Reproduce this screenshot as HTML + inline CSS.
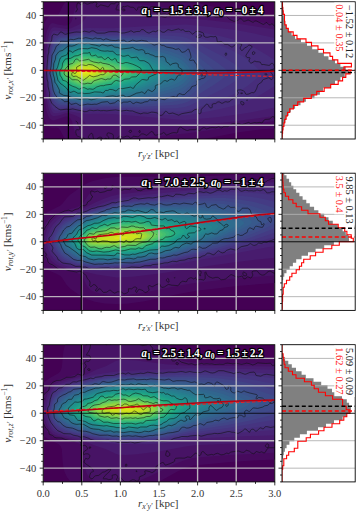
<!DOCTYPE html>
<html><head><meta charset="utf-8"><style>html,body{margin:0;padding:0;background:#fff;overflow:hidden}svg{display:block}</style></head><body>
<svg width="357" height="513" viewBox="0 0 357 513">
<rect width="357" height="513" fill="#fff"/>
<clipPath id="c0"><rect x="43.2" y="1.8" width="231.6" height="137.2"/></clipPath>
<g clip-path="url(#c0)">
<rect x="43.2" y="1.8" width="231.6" height="137.2" fill="#440154"/>
<path fill-rule="evenodd" fill="#460a5d" d="M191.7 141.3 67.0 141.2 63.9 137.2 60.1 130.2 58.6 128.2 56.7 127.4 51.7 127.8 49.7 127.1 47.7 125.8 45.2 122.2 42.7 114.4 41.7 114.4 41.7 29.0 42.7 29.0 44.8 22.2 46.7 18.7 48.7 16.8 50.7 15.8 52.7 15.5 55.7 15.9 57.7 15.2 59.2 13.2 63.1 5.2 66.7 0.2 181.2 0.2 200.7 3.8 229.2 10.2 244.6 13.2 264.2 16.2 276.7 17.4 276.7 128.4 262.4 129.2 239.1 132.2 191.7 141.3Z"/>
<path fill-rule="evenodd" fill="#471365" d="M104.7 141.3 85.1 141.2 81.7 139.8 77.7 136.9 75.7 134.2 74.1 130.2 72.0 121.2 71.0 119.2 69.7 117.8 67.7 116.6 65.7 116.6 53.7 120.4 51.7 120.1 49.7 118.4 48.4 116.2 46.9 112.2 46.0 108.2 44.6 97.2 42.7 73.9 41.7 73.9 41.7 69.5 42.7 69.5 45.1 41.2 46.0 35.2 47.2 30.2 49.7 25.0 51.7 23.3 52.7 23.0 57.7 24.6 64.7 25.6 67.7 25.3 69.5 24.2 71.1 22.2 72.0 20.2 74.1 11.2 75.6 7.2 77.7 4.4 79.7 2.8 84.9 0.2 101.5 0.2 121.7 2.1 189.7 10.5 233.7 17.8 274.7 24.2 276.7 24.2 276.7 121.1 274.7 121.1 187.7 133.2 127.7 139.4 104.7 141.3Z"/>
<path fill-rule="evenodd" fill="#481c6e" d="M102.7 126.3 88.7 126.5 86.7 125.2 83.1 120.2 81.0 118.2 75.0 115.2 69.1 113.2 65.7 113.3 59.7 115.2 53.7 116.3 51.7 115.2 50.3 113.2 48.2 107.2 46.4 97.2 45.1 83.2 44.6 70.2 45.6 54.2 47.4 40.2 49.7 31.5 50.9 29.2 52.7 27.4 54.7 27.2 66.7 29.1 71.0 28.2 79.9 24.2 82.4 22.2 86.7 16.3 88.1 15.2 89.7 14.9 140.7 17.5 183.7 18.3 193.7 18.8 211.7 20.4 234.6 23.2 274.7 29.4 276.7 29.5 276.7 115.8 227.8 122.2 193.7 125.3 181.7 125.7 134.7 125.2 102.7 126.3Z"/>
<path fill-rule="evenodd" fill="#482475" d="M194.7 119.3 185.7 119.9 177.7 119.6 111.7 113.9 102.7 113.7 86.7 114.0 77.7 112.8 67.7 111.0 59.7 112.8 55.7 113.2 53.7 112.9 52.7 112.2 50.9 109.2 48.9 102.2 46.9 89.2 45.7 73.2 46.3 61.2 48.0 46.2 49.5 38.2 51.7 32.6 52.7 31.3 54.7 30.4 67.7 31.2 77.7 29.2 87.7 27.9 112.3 28.2 141.7 26.5 185.7 24.5 210.7 26.9 235.7 30.1 253.1 33.2 274.7 38.1 276.7 38.1 276.7 107.5 274.7 107.5 252.0 112.2 237.7 114.6 216.8 117.2 194.7 119.3Z"/>
<path fill-rule="evenodd" fill="#472d7b" d="M185.7 115.3 176.7 115.4 145.7 113.7 113.7 111.2 103.7 111.0 85.7 111.4 77.7 110.8 67.7 109.3 58.7 110.8 55.7 110.4 53.7 109.6 52.7 108.5 51.6 106.2 49.4 98.2 47.9 87.2 46.7 72.2 47.3 61.2 49.1 47.2 50.6 40.2 52.7 35.0 54.7 33.4 58.7 32.7 67.7 32.9 76.7 31.4 85.7 30.6 109.7 31.2 142.7 29.7 177.7 29.0 186.7 29.3 219.7 36.0 230.7 38.7 239.1 41.2 246.7 44.1 253.4 47.2 262.3 52.2 274.7 60.1 276.7 60.2 276.7 86.0 274.7 86.1 261.4 94.2 253.7 98.4 246.7 101.5 239.0 104.2 230.7 106.6 219.0 109.2 191.7 114.5 185.7 115.3Z"/>
<path fill-rule="evenodd" fill="#463480" d="M183.7 111.4 174.7 111.7 143.7 111.1 109.7 109.1 84.7 109.7 76.7 109.2 67.7 107.8 59.7 108.8 54.7 107.3 53.7 106.4 52.4 104.2 50.2 96.2 48.5 84.2 47.5 72.2 48.2 62.2 49.5 51.2 51.1 43.2 52.7 38.6 54.7 36.2 59.7 34.5 67.7 34.5 76.7 33.0 83.7 32.5 109.7 33.1 143.7 32.2 176.7 32.7 184.7 33.3 191.7 35.1 214.5 43.2 224.8 47.2 233.7 51.3 241.7 55.8 248.7 60.6 255.4 66.2 259.8 71.2 260.3 73.2 260.0 74.2 258.7 76.2 255.7 79.2 246.7 86.5 236.7 92.7 227.7 96.8 215.7 101.4 191.7 109.6 183.7 111.4Z"/>
<path fill-rule="evenodd" fill="#443b84" d="M175.7 108.3 141.7 108.9 107.7 107.6 84.7 108.3 77.7 107.9 67.7 106.4 59.7 107.0 56.7 105.8 54.7 104.4 53.7 103.2 51.7 98.0 49.7 87.2 48.3 73.2 48.6 66.2 50.1 53.2 51.8 45.2 53.7 40.3 55.7 38.3 59.7 36.4 67.7 35.9 76.7 34.4 83.7 33.9 109.7 34.7 141.7 34.4 174.7 36.1 181.7 36.8 186.7 38.1 190.7 39.7 222.4 56.2 234.9 64.2 239.6 68.2 242.2 71.2 242.6 73.2 242.2 74.2 238.6 78.2 231.7 83.4 222.0 89.2 189.7 105.5 183.7 107.3 175.7 108.3Z"/>
<path fill-rule="evenodd" fill="#414487" d="M151.7 106.3 138.7 106.9 107.7 106.2 82.7 107.0 76.7 106.6 67.7 105.1 60.7 105.3 57.7 104.1 54.7 101.6 52.6 97.2 50.4 86.2 49.1 74.2 49.1 68.2 50.4 57.2 52.1 48.2 53.8 43.2 56.5 40.2 58.7 38.7 60.7 37.9 67.7 37.2 76.7 35.7 82.7 35.2 109.7 36.2 139.7 36.3 177.7 39.9 184.7 41.6 190.7 44.6 199.7 51.1 218.1 63.2 224.5 68.2 227.3 71.2 227.7 72.2 227.2 74.2 225.4 76.2 221.8 79.2 213.3 85.2 200.7 93.1 191.7 99.5 187.7 101.7 182.7 103.6 176.7 104.7 151.7 106.3Z"/>
<path fill-rule="evenodd" fill="#3e4a89" d="M97.7 105.3 88.7 105.8 80.7 105.8 67.7 103.8 61.7 103.8 58.7 102.7 54.7 98.7 52.7 93.9 51.2 86.2 49.7 74.2 49.8 68.2 51.3 56.2 53.1 48.2 54.4 45.2 55.7 43.5 59.7 40.1 62.7 39.1 77.7 36.8 88.7 36.4 106.7 37.5 139.7 38.2 176.7 43.2 183.7 45.3 190.4 49.2 199.7 57.7 211.6 67.2 214.5 70.2 215.5 72.2 214.9 74.2 212.2 77.2 199.7 87.2 191.7 94.4 185.9 98.2 180.7 100.3 171.7 101.9 141.7 104.9 110.7 104.8 97.7 105.3Z"/>
<path fill-rule="evenodd" fill="#3b528b" d="M95.7 104.3 80.7 104.7 67.7 102.6 61.7 102.2 58.7 100.8 56.3 98.2 54.7 95.9 52.7 90.3 51.4 83.2 50.3 73.2 50.4 68.2 51.9 57.2 53.7 49.8 55.7 46.0 59.7 41.9 62.7 40.7 76.7 38.1 81.7 37.6 88.7 37.6 105.7 38.7 138.7 40.0 172.7 45.8 181.7 48.4 187.7 51.9 193.5 57.2 204.5 69.2 205.9 71.2 206.1 73.2 204.9 75.2 191.7 89.3 185.5 94.2 182.7 95.7 178.7 97.1 170.7 98.8 140.7 103.1 108.7 103.6 95.7 104.3Z"/>
<path fill-rule="evenodd" fill="#38598c" d="M93.7 103.3 79.7 103.5 67.7 101.3 62.7 100.8 60.7 100.2 58.7 98.8 55.3 94.2 53.6 90.2 51.9 82.2 50.9 73.2 51.1 67.2 52.7 56.8 54.4 51.2 57.3 46.2 60.7 43.1 63.7 41.9 75.7 39.4 84.7 38.7 132.7 41.3 144.7 42.8 172.7 49.1 181.7 52.2 186.3 55.2 190.5 59.2 196.1 66.2 199.0 71.2 199.1 73.2 197.6 76.2 194.1 81.2 189.8 86.2 183.7 91.2 176.7 94.2 168.7 96.1 139.7 101.3 107.7 102.3 93.7 103.3Z"/>
<path fill-rule="evenodd" fill="#355f8d" d="M92.7 102.3 79.7 102.4 62.7 99.3 60.7 98.5 59.1 97.2 55.7 92.3 53.7 87.3 52.3 80.2 51.4 72.2 51.8 66.2 53.2 58.2 55.2 52.2 58.7 46.6 61.7 44.2 64.1 43.2 75.7 40.6 79.7 40.0 84.7 39.8 130.7 42.8 141.7 44.2 171.7 52.1 180.7 55.6 184.7 58.2 188.7 62.1 192.6 67.2 194.7 71.2 194.7 73.2 193.4 76.2 190.6 80.2 187.1 84.2 181.7 88.4 173.7 91.6 145.7 98.4 138.7 99.6 105.7 101.2 92.7 102.3Z"/>
<path fill-rule="evenodd" fill="#31668e" d="M91.7 101.3 79.7 101.4 63.7 98.1 61.7 97.4 59.7 96.0 56.5 91.2 54.4 86.2 52.7 79.1 51.9 72.2 52.4 66.2 53.7 59.4 55.9 53.2 58.9 48.2 60.7 46.5 62.7 45.2 76.7 41.5 80.7 41.0 85.7 40.9 128.7 44.2 139.7 45.7 169.7 54.7 177.7 57.8 182.0 60.2 185.7 63.4 188.9 67.2 191.0 71.2 191.1 73.2 190.3 75.2 187.7 79.0 184.6 82.2 181.7 84.5 178.7 86.2 170.7 89.3 145.7 96.3 138.7 97.8 91.7 101.3Z"/>
<path fill-rule="evenodd" fill="#2f6c8e" d="M90.7 100.3 78.7 100.2 63.7 96.7 61.7 95.8 59.7 94.2 57.1 90.2 55.0 85.2 53.6 80.2 52.5 73.2 52.7 68.2 54.1 61.2 56.2 55.2 59.6 49.2 62.7 46.8 70.1 44.2 75.7 42.8 79.7 42.2 84.7 42.0 91.7 42.3 125.7 45.5 137.7 47.1 145.7 49.3 169.7 57.8 175.7 60.3 179.7 62.6 183.2 65.2 185.9 68.2 187.5 71.2 187.7 72.2 187.2 74.2 185.1 77.2 181.7 80.5 177.7 83.0 170.1 86.2 144.7 94.5 138.7 96.0 132.7 96.9 90.7 100.3Z"/>
<path fill-rule="evenodd" fill="#2c728e" d="M89.7 99.3 78.7 99.1 64.7 95.6 62.7 94.8 60.7 93.4 57.8 89.2 55.3 83.2 53.7 77.4 53.0 72.2 53.3 68.2 54.9 61.2 57.7 54.2 60.4 50.2 63.7 47.7 70.7 45.3 76.7 43.8 80.7 43.2 85.7 43.1 92.7 43.5 126.7 47.1 135.7 48.4 144.7 51.0 172.7 62.4 179.7 66.5 182.6 69.2 183.8 71.2 183.8 73.2 182.6 75.2 179.7 77.9 175.7 80.5 168.7 83.6 142.4 93.2 137.7 94.4 131.7 95.4 89.7 99.3Z"/>
<path fill-rule="evenodd" fill="#2a788e" d="M88.7 98.3 78.7 98.1 72.7 96.7 64.7 94.2 62.7 93.3 60.7 91.7 58.3 88.2 56.2 83.2 54.6 78.2 53.7 73.2 53.8 69.2 55.5 62.2 58.3 55.2 60.7 51.6 63.7 49.2 70.7 46.5 76.7 44.9 80.7 44.2 84.7 44.2 92.7 44.6 133.7 49.8 138.7 50.9 143.7 52.7 168.7 63.8 175.7 67.7 177.7 69.2 179.4 71.2 179.6 72.2 178.6 74.2 176.4 76.2 172.7 78.5 146.7 89.7 140.7 91.9 129.7 94.0 88.7 98.3Z"/>
<path fill-rule="evenodd" fill="#277e8e" d="M87.7 97.3 79.7 97.2 69.7 94.6 62.7 91.8 60.7 90.0 58.7 87.0 56.3 81.2 54.9 76.2 54.3 72.2 54.5 69.2 56.0 63.2 58.8 56.2 61.7 52.2 64.7 50.1 70.7 47.7 76.7 46.0 80.7 45.3 85.7 45.3 93.7 45.8 131.7 51.0 138.7 52.7 145.7 55.6 168.9 67.2 172.1 69.2 174.0 71.2 174.3 72.2 173.0 74.2 168.7 77.1 145.7 88.0 138.7 90.6 126.7 92.9 87.7 97.3Z"/>
<path fill-rule="evenodd" fill="#25848e" d="M86.7 96.3 80.7 96.2 77.7 95.8 70.7 93.8 63.7 91.0 61.7 89.4 59.7 86.9 57.9 83.2 56.2 78.2 55.1 73.2 55.2 69.2 57.2 62.2 59.7 56.5 61.7 53.8 63.7 52.1 72.7 48.2 80.7 46.4 90.7 46.6 119.7 50.6 133.7 53.1 139.7 54.9 145.7 57.7 164.6 68.2 168.2 71.2 168.4 72.2 168.0 73.2 163.9 76.2 145.7 85.9 137.7 89.1 123.7 91.8 92.7 95.9 86.7 96.3Z"/>
<path fill-rule="evenodd" fill="#238a8d" d="M84.7 95.3 80.7 95.2 75.9 94.2 70.7 92.7 63.7 89.6 61.7 87.8 59.7 85.1 58.0 81.2 56.2 75.2 55.7 71.2 56.1 68.2 58.3 61.2 60.7 56.7 62.7 54.4 64.7 52.9 73.7 49.1 80.7 47.5 90.7 47.6 118.7 51.9 132.7 54.6 138.7 56.4 144.7 59.2 159.2 68.2 162.6 71.2 162.7 72.2 162.3 73.2 158.3 76.2 144.9 84.2 136.7 87.7 129.7 89.3 117.7 91.2 92.7 94.8 84.7 95.3Z"/>
<path fill-rule="evenodd" fill="#21918c" d="M95.7 93.3 86.7 94.2 78.7 93.9 72.7 92.2 68.7 90.6 63.9 88.2 61.7 86.2 59.7 83.3 58.4 80.2 56.9 75.2 56.4 71.2 57.4 66.2 59.2 61.2 61.6 57.2 63.7 55.0 66.7 53.2 71.7 50.9 77.7 49.1 81.7 48.5 91.7 48.8 115.7 52.7 130.7 55.7 139.7 58.7 144.6 61.2 149.2 64.2 155.9 69.2 157.7 71.2 157.8 72.2 157.3 73.2 152.4 77.2 144.7 82.3 137.7 85.6 125.7 88.5 95.7 93.3Z"/>
<path fill-rule="evenodd" fill="#1f968b" d="M94.7 92.4 85.7 93.2 78.7 92.8 69.7 89.9 64.7 87.4 62.2 85.2 60.2 82.2 58.7 79.0 57.3 74.2 57.0 71.2 57.8 67.2 59.7 62.0 61.7 58.7 63.7 56.5 70.7 52.5 78.7 49.9 84.7 49.6 93.7 50.2 120.7 55.1 129.7 57.1 135.7 58.9 140.7 61.1 145.9 64.2 151.1 68.2 153.6 71.2 153.7 72.2 153.2 73.2 148.9 77.2 142.7 81.4 136.7 84.2 123.7 87.4 94.7 92.4Z"/>
<path fill-rule="evenodd" fill="#1e9c89" d="M94.7 91.3 85.7 92.1 78.7 91.8 69.7 88.7 64.7 86.0 62.7 84.3 60.7 81.4 59.2 78.2 58.0 74.2 57.7 71.2 58.2 68.2 59.7 63.9 61.7 60.3 63.7 58.0 66.7 55.8 70.7 53.7 78.7 51.0 83.7 50.6 92.7 51.2 118.7 56.1 128.0 58.2 134.6 60.2 139.7 62.5 144.2 65.2 148.0 68.2 150.3 71.2 150.0 73.2 146.7 76.5 141.2 80.2 135.7 82.8 121.7 86.4 94.7 91.3Z"/>
<path fill-rule="evenodd" fill="#1fa287" d="M93.7 90.4 84.7 91.1 78.7 90.7 70.7 88.0 66.7 85.9 63.7 83.8 61.7 81.4 59.7 77.6 58.6 74.2 58.3 71.2 60.0 65.2 61.7 62.0 63.7 59.4 66.6 57.2 70.1 55.2 78.7 52.1 82.7 51.7 91.7 52.1 116.7 57.0 132.6 61.2 137.5 63.2 141.7 65.7 145.7 68.9 147.4 71.2 147.0 73.2 144.1 76.2 139.7 79.1 134.7 81.4 128.7 83.2 119.7 85.4 93.7 90.4Z"/>
<path fill-rule="evenodd" fill="#22a884" d="M93.7 89.3 84.7 90.1 78.7 89.7 70.7 86.8 66.1 84.2 63.7 82.4 61.7 79.7 60.4 77.2 59.3 74.2 59.0 71.2 59.6 68.2 60.7 65.5 63.7 60.9 65.7 59.2 69.7 56.7 78.5 53.2 82.7 52.8 91.7 53.2 115.7 58.2 130.7 62.3 135.7 64.2 139.4 66.2 143.3 69.2 144.6 71.2 144.2 73.2 141.7 75.7 137.7 78.3 132.7 80.4 117.7 84.5 93.7 89.3Z"/>
<path fill-rule="evenodd" fill="#28ae80" d="M92.7 88.4 83.7 89.0 78.7 88.6 70.7 85.6 64.7 81.8 61.7 78.0 60.4 75.2 59.7 72.2 59.8 70.2 60.7 67.5 63.7 62.4 66.1 60.2 69.7 57.9 77.7 54.6 81.7 53.8 90.7 54.2 113.7 59.1 128.6 63.2 133.7 65.2 137.7 67.2 140.4 69.2 141.9 71.2 141.4 73.2 139.3 75.2 135.7 77.4 130.7 79.4 115.7 83.6 92.7 88.4Z"/>
<path fill-rule="evenodd" fill="#2fb47c" d="M92.7 87.4 85.7 88.0 79.7 87.8 71.7 84.9 65.7 81.3 63.7 79.4 62.2 77.2 60.9 74.2 60.4 72.2 61.2 68.2 63.7 63.9 66.6 61.2 69.7 59.2 77.7 55.7 81.7 54.9 90.7 55.3 111.7 59.9 125.7 63.9 134.7 67.6 137.4 69.2 139.0 71.2 139.0 72.2 138.5 73.2 136.7 74.8 133.7 76.4 128.7 78.4 114.7 82.5 92.7 87.4Z"/>
<path fill-rule="evenodd" fill="#38b977" d="M92.7 86.3 85.7 86.9 79.7 86.7 72.7 84.2 67.4 81.2 63.7 77.9 61.4 73.2 61.2 71.2 61.7 69.2 63.7 65.5 65.8 63.2 69.7 60.4 77.7 56.8 81.7 56.0 89.7 56.3 93.7 56.9 108.7 60.5 122.0 64.2 132.1 68.2 135.1 70.2 135.8 71.2 135.8 72.2 133.8 74.2 125.7 77.8 113.7 81.4 92.7 86.3Z"/>
<path fill-rule="evenodd" fill="#44bf70" d="M91.7 85.4 84.7 85.9 79.7 85.7 73.1 83.2 68.7 80.8 64.7 77.5 62.6 74.2 62.1 71.2 62.6 69.2 63.7 67.1 65.7 64.8 68.8 62.2 72.3 60.2 76.7 58.3 80.7 57.2 87.7 57.2 94.7 58.2 117.3 64.2 128.1 68.2 131.4 70.2 132.2 71.2 132.2 72.2 129.9 74.2 122.8 77.2 110.7 80.9 91.7 85.4Z"/>
<path fill-rule="evenodd" fill="#50c46a" d="M91.7 84.3 80.7 84.8 77.7 84.0 71.4 81.2 67.0 78.2 64.2 75.2 62.9 72.2 63.7 68.9 66.7 65.2 72.7 61.2 79.7 58.4 84.7 58.2 92.7 58.9 112.7 64.2 123.9 68.2 127.5 70.2 128.3 71.2 128.3 72.2 126.7 73.7 118.7 77.1 108.3 80.2 91.7 84.3Z"/>
<path fill-rule="evenodd" fill="#5ec962" d="M90.7 83.4 80.7 83.7 77.7 82.9 71.7 80.2 67.7 77.5 64.7 74.2 63.9 72.2 64.7 69.2 67.7 65.8 72.7 62.4 79.7 59.5 84.7 59.3 92.7 60.0 109.7 64.7 119.7 68.2 123.4 70.2 124.3 71.2 124.3 72.2 123.3 73.2 116.9 76.2 107.3 79.2 90.7 83.4Z"/>
<path fill-rule="evenodd" fill="#6ccd5a" d="M90.7 82.3 80.7 82.7 77.7 81.9 73.7 80.1 69.7 77.7 66.7 75.1 65.1 72.2 65.4 70.2 67.7 67.2 72.7 63.7 78.7 60.9 80.7 60.4 83.7 60.4 92.7 61.2 106.7 65.1 115.6 68.2 119.5 70.2 120.4 71.2 120.3 72.2 119.4 73.2 113.7 75.9 105.7 78.4 90.7 82.3Z"/>
<path fill-rule="evenodd" fill="#7ad151" d="M89.7 81.4 80.7 81.6 75.7 79.9 70.9 77.2 67.7 74.6 66.4 72.2 66.7 70.2 69.3 67.2 73.7 64.4 79.7 61.7 83.7 61.5 90.7 61.9 94.7 62.8 111.6 68.2 115.6 70.2 116.5 71.2 116.5 72.2 115.4 73.2 111.3 75.2 94.7 80.4 89.7 81.4Z"/>
<path fill-rule="evenodd" fill="#8bd646" d="M89.7 80.3 81.7 80.6 79.7 80.3 76.7 79.2 71.7 76.5 69.0 74.2 67.8 72.2 68.1 70.2 71.1 67.2 76.7 64.0 80.7 62.6 83.7 62.6 90.7 63.0 94.7 64.0 107.5 68.2 111.6 70.2 112.6 71.2 112.6 72.2 111.5 73.2 107.2 75.2 94.7 79.2 89.7 80.3Z"/>
<path fill-rule="evenodd" fill="#9bd93c" d="M88.7 79.3 81.7 79.6 79.7 79.3 77.1 78.2 73.4 76.2 70.6 74.2 69.3 72.2 69.7 70.2 72.7 67.5 77.7 64.7 80.7 63.8 83.7 63.7 89.7 64.1 93.7 64.9 105.9 69.2 108.8 71.2 108.7 72.2 105.7 74.2 94.2 78.2 88.7 79.3Z"/>
<path fill-rule="evenodd" fill="#addc30" d="M86.7 78.3 80.7 78.4 77.7 77.4 72.5 74.2 71.0 72.2 71.0 71.2 72.4 69.2 75.3 67.2 78.7 65.5 81.7 64.8 89.7 65.2 92.7 65.8 101.9 69.2 104.9 71.2 104.9 72.2 103.7 73.2 96.6 76.2 91.7 77.7 86.7 78.3Z"/>
<path fill-rule="evenodd" fill="#bddf26" d="M84.7 77.3 80.7 77.2 77.7 76.2 73.5 73.2 72.9 72.2 72.9 71.2 73.7 70.0 76.7 67.7 79.7 66.3 81.7 66.0 89.7 66.4 92.7 67.0 98.2 69.2 101.0 71.2 101.0 72.2 99.8 73.2 94.7 75.7 90.7 76.8 84.7 77.3Z"/>
<path fill-rule="evenodd" fill="#cde11d" d="M91.7 75.3 85.7 76.0 80.7 76.1 76.7 74.2 75.0 72.2 75.0 71.2 75.6 70.2 77.7 68.5 79.7 67.6 81.7 67.2 91.7 68.1 94.9 69.2 97.5 71.2 97.5 72.2 96.5 73.2 91.7 75.3Z"/>
<path fill-rule="evenodd" fill="#dfe318" d="M89.7 74.3 80.7 74.8 77.7 73.2 77.0 72.2 77.0 71.2 77.7 70.2 79.0 69.2 81.7 68.5 90.7 69.2 93.2 70.2 94.3 71.2 94.3 72.2 93.1 73.2 89.7 74.3Z"/>
<path fill-rule="evenodd" fill="#efe51c" d="M83.7 73.3 80.7 73.1 79.5 72.2 79.5 71.2 80.7 70.3 81.7 70.1 84.8 70.2 89.3 71.2 89.2 72.2 83.7 73.3Z"/>
<path fill="none" stroke="#111" stroke-opacity="0.8" stroke-width="0.7" d="M84.7 141.2 84.6 139.2 84.2 138.2 80.7 137.4 77.7 136.3 76.5 135.2 75.7 132.2 76.1 130.2 76.7 129.5 78.7 130.0 79.5 129.2 79.9 128.2 79.6 127.2 78.1 125.2 77.7 122.7 76.7 121.7 75.7 121.1M75.7 19.3 76.0 18.2 75.7 18.1M75.7 12.2 77.5 9.2 76.6 7.2 77.0 4.2 77.7 2.9 78.7 3.0 80.7 4.7 81.7 4.9 82.0 4.2 83.7 3.0 84.7 2.9 86.7 4.0 87.7 4.2 90.7 3.0 92.7 2.9 94.7 1.9 96.1 2.2 97.0 3.2 96.2 5.2 96.2 6.2 96.7 6.9 97.7 7.0 100.7 4.9 105.7 6.0 107.7 6.8 108.7 6.6 110.1 4.2 110.7 3.9 111.7 3.7 114.7 3.9 116.0 2.2 116.7 1.8 117.7 1.8 118.6 2.2 119.3 3.2 118.8 4.2 117.3 5.2 116.5 8.2 115.7 9.2 116.7 9.9 117.7 9.8 119.7 10.3 120.7 10.1 121.7 9.2 122.2 7.2 122.7 6.6 124.7 6.7 127.7 5.8 130.7 7.3 132.7 7.3 133.7 7.6 134.6 8.2 135.7 9.8 136.7 10.3 137.7 9.2 137.7 7.7 138.3 7.2 140.7 7.1 142.7 6.2 143.7 6.5 144.8 7.2 144.9 8.2 143.9 10.2 144.2 11.2 144.7 11.4 147.7 11.1 148.8 10.2 150.0 7.2 150.7 6.8 152.7 6.5 154.7 6.5 155.7 6.9 159.7 9.5 161.7 8.8 162.7 8.8 164.7 11.2 165.7 11.9 167.7 9.3 168.7 9.5 169.7 11.2 169.6 12.2 167.7 14.4 166.7 14.5 165.7 13.9 164.7 13.7 160.7 14.3 159.6 11.2 158.7 11.1 157.0 12.2 156.9 13.2 157.7 14.7 158.7 15.3 159.7 15.4 160.7 16.2 164.7 17.3 166.0 17.2 167.7 15.8 169.7 16.4 170.7 16.1 173.1 14.2 174.7 12.6 176.7 11.7 177.7 11.7 180.7 13.7 183.7 13.3 184.7 13.7 186.7 15.3 187.7 15.4 189.7 13.8 192.7 14.3 196.7 13.8 198.7 12.1 199.7 11.6 200.7 11.7 202.7 12.5 203.5 13.2 204.1 15.2 204.7 16.0 207.7 17.2 209.7 15.3 210.7 15.1 211.7 15.3 215.7 17.3 218.7 17.0 221.7 17.4 223.7 16.2 224.7 15.9 225.7 16.0 226.7 16.5 229.7 19.5 233.7 21.3 234.7 21.3 237.7 20.4 239.7 18.9 240.7 18.8 241.7 19.3 243.7 21.2 244.7 21.2 247.7 20.2 248.7 20.2 252.7 22.2 253.7 22.0 254.7 21.2 255.7 20.9 256.7 21.1 262.7 24.2 263.7 24.4 264.7 23.9 265.7 22.8 266.7 22.5 268.7 24.5 269.7 24.8 270.7 24.6 271.7 23.9 272.7 24.0 273.7 25.6 274.6 26.2 276.7 26.1M125.1 10.2 124.7 9.2 123.7 9.0 123.2 9.2 122.6 10.2 123.7 11.0 124.7 10.7 125.1 10.2M276.7 119.7 275.4 119.2 273.7 116.7 272.7 116.5 271.5 117.2 269.7 119.1 265.7 119.4 264.7 119.8 263.0 121.2 262.7 122.4 261.7 122.7 259.7 122.4 256.7 122.9 254.7 122.6 250.7 123.5 248.7 122.4 241.7 124.8 238.7 123.4 237.7 123.4 235.7 124.0 233.7 123.6 231.7 124.2 227.7 126.7 223.7 126.8 221.7 127.9 220.7 127.8 218.7 126.7 215.7 127.9 212.7 127.5 209.7 127.8 206.7 129.0 204.7 127.8 203.7 127.6 202.2 128.2 199.7 130.9 198.7 131.0 197.7 129.2 196.7 129.0 194.7 129.7 189.7 129.8 187.7 130.5 186.7 130.4 182.7 128.6 181.7 127.3 180.7 127.0 179.7 127.4 178.7 128.6 178.0 130.2 177.7 132.3 176.7 132.9 173.7 132.6 171.7 133.0 166.7 135.1 165.7 134.6 164.7 133.0 163.7 132.4 161.7 133.8 160.7 134.1 158.7 134.4 156.7 135.1 154.7 135.1 153.1 132.2 151.7 131.5 150.7 131.8 149.5 133.2 146.7 135.4 143.7 134.0 141.7 133.8 138.7 136.5 137.7 136.8 133.7 136.2 132.7 136.7 130.7 138.8 129.7 137.2 128.1 136.2 126.7 136.1 123.7 137.2 122.7 137.3 120.7 136.3 119.7 136.1 117.7 137.6 114.7 140.9 113.7 141.1 113.4 140.2 113.3 135.2 112.7 134.2 111.7 133.7 108.7 132.8 107.4 133.2 106.8 135.2 108.7 137.2 108.7 138.3 108.0 139.2 107.7 139.4 105.7 138.3 104.7 138.6 103.7 139.6 102.7 139.5 101.7 137.6 101.1 137.2 99.7 137.2 97.5 138.2 97.4 141.2M131.1 132.2 131.7 131.2 131.1 130.2 129.7 130.5 128.9 131.2 129.7 132.4 130.7 132.5 131.1 132.2M140.1 132.2 140.1 131.2 139.7 130.3 138.8 131.2 139.1 132.2 139.7 132.7 140.1 132.2M94.8 141.2 93.6 139.2 92.7 134.6 91.7 133.2 90.7 133.6 88.6 136.2 88.2 137.2 90.1 139.2 87.1 141.2M161.7 115.3 160.7 115.5 159.7 115.1 157.7 113.3 156.7 112.8 153.7 112.3 151.7 112.1 147.7 113.3 143.7 112.9 140.7 113.8 135.7 112.3 132.7 111.0 129.7 110.9 126.7 110.3 121.7 111.0 115.7 109.9 106.7 110.8 103.7 110.5 100.7 110.7 97.7 110.2 93.7 110.7 89.7 110.2 86.7 111.5 84.7 111.7 81.7 110.7 79.7 110.5 72.7 108.9 69.7 109.5 66.7 109.2 60.7 109.8 58.7 109.1 54.7 106.2 51.7 103.1 49.7 98.2 49.4 96.2 49.6 93.2 48.0 86.2 47.9 82.2 47.1 79.2 46.6 73.2 47.9 55.2 48.8 52.2 48.9 48.2 50.6 42.2 51.7 40.1 52.1 36.2 52.7 35.1 53.7 34.3 54.7 34.3 56.7 34.9 57.7 34.9 58.7 34.2 59.7 32.6 60.7 32.0 61.7 32.1 64.7 34.1 65.7 34.3 68.7 33.3 74.7 32.2 76.7 32.0 80.7 32.2 84.7 31.2 88.7 32.1 89.7 32.1 91.7 31.0 92.7 30.9 93.7 31.1 96.7 32.9 97.7 33.2 104.7 33.1 108.7 31.8 110.7 31.6 116.7 31.7 118.7 32.1 120.7 33.0 121.7 33.1 124.7 32.9 128.7 31.8 130.7 30.9 131.7 31.0 133.7 32.3 136.7 31.5 139.7 31.4 141.7 29.6 142.7 29.6 143.7 29.9 146.7 32.3 148.7 33.0 149.7 32.9 152.7 31.3 153.7 31.2 155.7 31.7 158.7 30.0 159.9 30.2 161.7 32.0 163.7 32.3 164.7 32.0 167.7 29.8 168.7 29.7 171.7 30.6 178.7 28.9 179.6 29.2 180.7 30.3 182.7 29.7 183.7 30.1 184.9 31.2 185.7 31.5 188.7 31.3 189.7 31.6 192.7 34.2 195.7 31.7 197.7 31.2 199.7 31.6 202.7 32.7 203.4 33.2 203.7 34.0 203.9 36.2 205.7 37.2 207.7 37.3 210.7 36.5 213.7 36.8 215.7 36.4 216.7 37.9 217.2 41.2 217.7 42.0 220.7 41.5 221.7 41.7 224.7 44.2 227.7 44.4 230.2 46.2 231.7 47.0 232.7 46.8 236.7 43.5 237.7 43.1 241.7 44.2 241.6 45.2 240.4 47.2 240.2 48.2 240.7 49.6 241.7 50.5 242.7 50.2 244.7 47.8 246.7 47.1 248.6 45.2 249.9 45.2 251.8 46.2 252.1 47.2 249.7 49.6 246.0 55.2 246.0 56.2 246.7 57.2 247.7 57.6 249.7 57.6 250.0 58.2 249.1 60.2 249.1 61.2 249.7 62.2 250.7 63.0 251.7 63.0 254.7 61.1 256.7 61.7 258.7 61.8 260.3 62.2 261.7 64.6 263.7 64.5 268.7 65.4 269.7 65.3 270.7 63.9 271.7 63.4 272.7 63.5 273.7 64.4 274.5 67.2 274.3 68.2 273.8 69.2 270.7 69.8 270.2 70.2 270.2 71.2 270.7 72.2 272.3 74.2 272.8 75.2 273.1 77.2 272.7 78.6 271.7 79.7 270.7 79.4 270.0 78.2 268.7 77.7 263.7 79.4 262.6 80.2 261.6 82.2 258.7 84.0 257.7 85.2 256.8 88.2 255.3 91.2 254.7 92.1 253.7 92.7 251.7 92.6 248.7 94.0 246.7 94.4 245.7 94.0 244.7 91.9 243.7 90.9 240.7 89.8 237.7 90.1 237.4 90.2 237.3 91.2 238.6 93.2 236.7 95.0 234.7 98.0 231.7 99.5 229.7 101.6 227.7 102.1 225.7 101.7 224.7 102.0 222.7 103.2 221.7 103.3 219.7 102.1 218.7 101.9 217.7 102.0 215.7 103.5 213.7 103.7 212.4 104.2 212.1 105.2 212.3 107.2 211.7 107.8 210.7 107.9 209.7 107.4 208.8 106.2 208.5 105.2 207.7 104.3 206.3 104.2 205.7 104.6 204.7 106.2 202.2 108.2 201.5 109.2 201.2 110.2 201.1 112.2 200.7 113.2 199.7 113.7 198.2 113.2 198.0 112.2 198.4 110.2 198.1 109.2 197.7 109.0 194.7 109.7 191.7 111.9 181.7 113.7 178.7 115.2 172.7 113.0 169.7 113.6 168.7 113.5 166.7 111.6 165.7 111.3 164.7 111.9 163.4 114.2 161.7 115.3M200.2 37.2 201.7 36.2 201.6 35.2 199.7 34.7 196.4 36.2 196.2 37.2 197.7 37.8 200.2 37.2M253.7 54.4 252.7 54.4 252.4 53.2 252.7 52.0 253.7 51.6 254.7 52.2 255.1 53.2 253.7 54.4M226.3 55.2 226.7 54.3 226.6 53.2 225.7 52.9 225.0 54.2 225.7 55.6 226.3 55.2M265.8 75.2 266.7 74.9 267.0 74.2 266.7 73.8 265.7 73.8 264.7 74.2 265.8 75.2M276.7 85.5 275.3 84.2 275.0 83.2 276.0 79.2 276.7 78.1M241.7 93.6 240.6 93.2 241.7 92.9 242.6 93.2 241.7 93.6M246.7 100.4 246.7 100.1 247.5 100.2 246.7 100.4M243.7 104.5 242.7 104.9 241.7 104.5 240.8 103.2 240.7 101.7 241.7 101.5 243.5 102.2 244.0 103.2 243.7 104.5M80.7 105.4 79.7 105.4 76.7 103.5 75.7 103.3 71.7 104.4 70.7 104.2 68.7 102.1 67.7 101.5 64.7 101.7 63.7 101.1 61.7 99.0 60.7 98.5 57.7 98.1 54.8 94.2 53.2 90.2 51.6 80.2 49.9 73.2 51.1 66.2 52.0 55.2 54.3 51.2 56.3 46.2 59.0 44.2 60.7 41.2 66.7 41.4 67.7 41.2 69.7 39.7 70.7 39.3 73.7 39.7 78.7 38.2 82.7 38.4 85.7 37.6 92.7 39.1 94.7 38.1 95.7 37.9 97.7 38.7 100.7 38.5 102.7 39.7 103.7 40.0 105.7 38.9 106.7 38.9 109.7 40.1 111.7 40.4 115.7 40.6 118.7 40.1 120.7 40.5 123.7 40.2 124.7 40.5 126.7 42.1 127.7 42.3 132.7 40.0 135.7 41.0 136.7 41.1 141.7 40.3 146.7 41.2 148.7 42.8 151.7 43.7 153.7 44.9 154.7 45.1 158.7 43.5 159.7 43.5 160.7 44.7 161.7 45.3 163.7 45.4 166.7 47.1 172.7 48.2 175.7 49.4 178.7 48.7 179.7 49.4 181.7 52.2 182.7 52.3 184.7 51.7 185.7 51.1 187.7 49.2 188.7 49.0 190.3 53.2 191.1 57.2 189.7 59.2 189.6 60.2 190.7 60.5 192.7 60.1 193.8 60.2 195.4 63.2 196.8 64.2 197.1 68.2 197.8 69.2 198.7 69.8 202.7 70.8 203.7 70.2 204.7 70.2 207.1 72.2 206.8 73.2 205.1 75.2 205.2 77.2 203.7 78.3 201.7 78.5 199.7 79.6 197.7 79.8 197.0 81.2 197.2 83.2 197.0 84.2 196.0 85.2 191.7 86.7 190.5 89.2 187.9 91.2 184.7 94.4 182.7 94.7 179.7 93.6 178.7 93.9 177.5 95.2 177.3 96.2 176.7 96.9 175.7 97.2 173.7 96.5 170.7 97.2 167.2 98.2 164.7 99.6 162.7 99.5 159.7 98.5 158.7 98.5 156.8 100.2 155.7 100.5 153.7 100.0 151.7 100.2 150.7 99.8 149.7 99.8 147.7 101.5 144.7 101.9 142.7 102.8 140.7 103.2 136.7 102.2 135.7 102.4 133.7 103.6 132.4 103.2 130.7 101.6 129.7 101.4 127.7 102.1 123.7 102.1 121.7 103.1 120.7 102.6 118.7 100.5 117.7 100.6 114.7 102.8 110.7 103.6 109.7 103.5 107.7 101.7 106.7 101.7 101.9 102.2 96.7 104.3 94.7 104.2 91.7 104.5 87.7 104.1 80.7 105.4M203.0 75.2 201.7 73.7 200.6 74.2 200.7 75.2 201.7 76.1 202.7 75.8 203.0 75.2M93.7 99.3 91.7 99.8 90.7 99.7 87.7 98.7 83.7 98.8 80.7 99.6 70.7 97.2 67.7 95.8 63.7 95.4 59.6 93.2 59.3 92.2 59.4 90.2 59.0 89.2 56.7 84.7 54.9 82.2 54.4 78.2 53.2 74.2 52.9 71.2 53.6 67.2 53.7 63.8 55.4 59.2 55.7 56.2 56.1 55.2 58.7 51.9 59.7 51.2 62.7 50.4 67.8 46.2 68.7 45.9 71.9 46.2 74.7 45.4 77.7 43.8 79.7 43.1 84.7 43.8 87.7 43.2 88.7 43.3 91.7 44.5 95.7 45.2 98.7 46.0 99.7 46.1 101.7 44.7 102.7 44.6 107.7 46.0 111.7 45.2 114.7 47.1 117.7 47.4 121.7 49.0 129.7 48.1 132.7 47.4 135.7 49.2 138.7 50.1 141.7 49.6 142.7 49.8 143.7 50.2 144.6 51.2 144.9 53.2 145.7 53.7 147.7 53.3 148.7 53.6 150.7 54.7 152.7 55.2 155.7 56.7 160.7 56.8 162.7 56.4 163.7 56.8 164.7 57.2 165.4 58.2 166.1 61.2 166.7 62.1 168.7 63.2 169.7 64.8 170.7 65.2 171.4 64.2 172.7 63.6 175.7 63.1 176.7 63.3 178.2 64.2 178.3 66.2 178.7 67.4 181.7 69.2 182.0 70.2 182.1 72.2 181.5 74.2 180.7 75.1 178.7 75.0 177.7 75.8 175.7 79.2 174.7 80.2 171.7 79.1 169.7 79.6 167.7 81.2 166.7 81.2 165.7 80.6 164.7 80.6 163.7 81.0 160.7 83.7 155.7 85.4 155.3 86.2 155.4 88.2 155.0 89.2 152.7 91.3 151.7 91.5 148.7 89.9 147.7 90.1 146.5 91.2 145.7 92.9 144.7 93.6 143.7 93.2 142.7 92.1 141.7 91.9 139.7 92.6 136.5 93.2 130.3 96.2 126.7 97.1 125.7 96.9 123.7 95.5 122.7 95.3 120.7 95.4 116.7 96.6 112.7 95.8 107.7 96.4 104.7 97.3 98.7 98.0 93.7 99.3M89.7 93.3 84.7 93.6 81.7 92.9 78.7 93.3 77.7 93.2 74.7 91.5 73.7 91.3 70.7 92.4 69.7 92.3 68.7 91.3 66.6 88.2 62.7 85.0 60.7 83.8 57.9 80.2 55.9 71.2 56.0 70.2 57.6 67.2 59.8 59.2 60.7 57.6 61.7 56.7 65.9 55.2 67.4 54.2 68.0 52.2 69.7 50.8 70.7 51.0 71.7 52.0 72.7 52.5 74.7 50.9 78.7 49.1 82.7 48.5 87.7 48.8 91.7 47.7 96.7 48.6 99.7 50.2 101.7 50.8 104.7 51.2 107.7 50.9 109.7 51.3 112.7 51.3 113.7 51.9 115.7 54.1 116.7 54.6 117.7 54.9 119.7 54.8 122.7 56.2 124.7 56.2 127.7 55.3 128.7 55.4 130.7 57.4 131.7 57.7 136.7 57.1 137.7 57.7 138.3 59.2 139.3 60.2 140.7 60.7 143.7 60.7 144.7 61.0 148.6 63.2 149.5 64.2 153.7 71.3 154.7 72.2 155.7 72.1 156.7 71.4 157.6 72.2 156.7 73.7 148.7 77.2 148.3 79.2 147.7 79.9 146.7 80.1 142.7 79.5 141.7 79.8 135.4 85.2 133.7 88.2 132.2 88.2 130.7 87.1 122.7 88.6 119.7 88.5 118.7 88.7 116.7 90.5 115.7 90.9 112.7 89.7 109.7 89.4 107.7 90.5 105.7 90.4 104.7 91.1 103.7 92.7 102.7 92.9 100.7 92.2 94.7 91.9 89.7 93.3M92.7 89.3 89.7 88.8 87.7 89.3 84.7 87.8 83.7 87.6 81.7 88.0 79.7 89.1 78.7 89.0 75.7 87.3 72.7 86.3 69.7 84.8 68.7 84.1 66.7 81.7 65.9 81.2 62.6 80.2 62.0 78.2 60.0 75.2 59.7 71.9 60.3 70.2 62.1 67.2 62.6 63.2 64.7 59.7 65.7 59.0 66.7 58.8 70.7 58.3 74.7 56.0 77.7 55.6 83.7 53.1 87.7 53.1 89.7 52.4 90.7 55.2 91.7 55.8 92.7 55.9 95.7 55.1 97.7 57.0 98.6 57.2 101.7 56.9 103.7 59.1 104.7 59.4 105.7 59.2 107.7 57.4 108.7 57.5 110.0 59.2 111.7 60.0 112.7 59.9 114.7 58.5 116.1 59.2 116.7 61.4 117.7 62.2 120.2 63.2 122.7 63.5 125.7 62.5 127.7 62.7 132.7 64.2 136.7 65.9 140.6 68.2 141.1 69.2 141.2 70.2 140.7 72.2 136.7 76.4 135.7 76.8 131.7 77.0 129.7 78.6 128.7 78.9 124.8 79.2 120.7 81.5 116.7 80.5 115.7 80.6 113.7 81.7 111.7 84.2 105.7 85.0 103.7 85.7 100.7 85.7 96.7 87.0 93.7 89.0 92.7 89.3M91.7 83.4 90.7 83.6 87.7 83.2 84.7 83.9 82.7 83.9 80.7 83.0 78.7 80.6 77.7 80.0 75.7 79.7 72.7 79.8 71.7 79.3 69.7 77.4 66.1 76.2 64.7 75.1 64.0 73.2 64.6 70.2 65.7 68.5 69.6 64.2 72.7 63.4 73.7 62.4 74.7 60.3 75.7 59.3 76.7 59.0 77.7 59.3 79.7 61.0 88.7 59.3 90.7 60.9 93.7 62.0 98.7 62.9 100.7 62.3 102.7 63.3 105.7 63.7 109.7 64.7 110.7 65.6 113.7 66.8 115.7 69.4 116.7 69.9 118.7 69.9 121.4 71.2 122.5 72.2 123.0 73.2 122.8 74.2 121.7 75.1 120.7 76.7 119.7 77.4 118.7 77.2 115.7 75.2 113.8 75.2 112.3 76.2 111.7 77.7 110.7 78.9 109.7 79.1 107.7 78.9 105.7 79.8 101.7 78.6 100.7 78.7 93.7 80.9 91.7 83.4M84.7 79.3 83.7 80.1 82.7 80.2 80.7 78.5 78.7 77.7 76.7 76.4 75.7 76.2 73.7 76.5 72.7 76.2 71.9 75.2 71.7 74.2 71.9 73.2 72.6 72.2 74.7 73.5 75.7 73.2 76.4 72.2 77.0 70.2 76.5 68.2 76.7 67.1 80.7 64.9 81.7 64.7 85.7 65.5 86.7 65.4 88.7 64.4 92.7 65.0 98.5 68.2 99.7 69.9 100.7 69.7 101.5 68.2 102.7 67.4 103.7 68.1 103.6 69.2 104.2 70.2 105.5 71.2 105.9 72.2 105.6 73.2 103.7 74.5 102.7 74.7 100.7 74.6 97.7 75.9 93.7 76.8 91.7 76.4 89.7 75.3 86.7 77.9 84.7 79.3"/>
<path stroke="#cfcfcf" stroke-opacity="0.85" stroke-width="1.4" fill="none" d="M81.80 1.8V138.9M120.40 1.8V138.9M159.00 1.8V138.9M197.60 1.8V138.9M236.20 1.8V138.9M43.2 125.23H274.8M43.2 97.79H274.8M43.2 42.91H274.8M43.2 15.47H274.8"/>
<path stroke="#000" stroke-width="0.8" d="M43.2 70.35H274.8"/>
<path stroke="#000" stroke-width="1.2" d="M68.4 1.8V138.9"/>
<path stroke="#f02020" stroke-width="1.1" stroke-dasharray="3.5 2" fill="none" d="M43.2 70.35L274.8 76.52"/>
<path stroke="#bb0010" stroke-width="1.5" fill="none" stroke-linejoin="round" d="M43.2 70.4 L60.0 70.4 L80.0 70.5 L100.0 70.8 L120.0 71.5 L140.0 72.1 L160.0 72.6 L180.0 72.9 L200.0 73.1 L220.0 72.9 L240.0 72.5 L260.0 71.8 L274.8 71.2"/>
</g>
<text x="263.5" y="14.2" font-family="Liberation Serif, serif" font-size="12" font-weight="bold" fill="#fff" stroke="#000" stroke-width="2.6" stroke-linejoin="round" paint-order="stroke" text-anchor="end" textLength="122" lengthAdjust="spacingAndGlyphs"><tspan font-style="italic">a</tspan><tspan font-size="8.5" dy="2.2">1</tspan><tspan dy="-2.2"> </tspan>= −1.5 ± 3.1, <tspan font-style="italic">a</tspan><tspan font-size="8.5" dy="2.2">0</tspan><tspan dy="-2.2"> </tspan>= −0 ± 4</text>
<rect x="43.2" y="1.8" width="231.6" height="137.2" fill="none" stroke="#000" stroke-width="0.9"/>
<path stroke="#000" stroke-width="0.8" fill="none" d="M43.2 138.95h-2M43.2 132.09h-2M43.2 125.23h-3.5M43.2 118.37h-2M43.2 111.51h-2M43.2 104.65h-2M43.2 97.79h-3.5M43.2 90.93h-2M43.2 84.07h-2M43.2 77.21h-2M43.2 70.35h-3.5M43.2 63.49h-2M43.2 56.63h-2M43.2 49.77h-2M43.2 42.91h-3.5M43.2 36.05h-2M43.2 29.19h-2M43.2 22.33h-2M43.2 15.47h-3.5M43.2 8.61h-2M43.2 1.75h-2"/>
<path stroke="#000" stroke-width="0.8" fill="none" d="M43.20 138.9v3.5M62.50 138.9v2.0M81.80 138.9v3.5M101.10 138.9v2.0M120.40 138.9v3.5M139.70 138.9v2.0M159.00 138.9v3.5M178.30 138.9v2.0M197.60 138.9v3.5M216.90 138.9v2.0M236.20 138.9v3.5M255.50 138.9v2.0M274.80 138.9v3.5"/>
<text x="36.2" y="128.7" font-family="Liberation Serif, serif" font-size="10.5" text-anchor="end" fill="#333">−40</text>
<text x="36.2" y="101.3" font-family="Liberation Serif, serif" font-size="10.5" text-anchor="end" fill="#333">−20</text>
<text x="36.2" y="73.8" font-family="Liberation Serif, serif" font-size="10.5" text-anchor="end" fill="#333">0</text>
<text x="36.2" y="46.4" font-family="Liberation Serif, serif" font-size="10.5" text-anchor="end" fill="#333">20</text>
<text x="36.2" y="19.0" font-family="Liberation Serif, serif" font-size="10.5" text-anchor="end" fill="#333">40</text>
<text transform="translate(10.8 70.3) rotate(-90)" font-family="Liberation Serif, serif" font-size="11" text-anchor="middle" fill="#333" textLength="59" lengthAdjust="spacingAndGlyphs"><tspan font-style="italic">v</tspan><tspan font-style="italic" font-size="7.7" dy="1.9">rot,x′</tspan><tspan dy="-1.9"> [kms</tspan><tspan font-size="7.2" dy="-3.6">−1</tspan><tspan dy="3.6">]</tspan></text>
<text x="158.3" y="157.3" font-family="Liberation Serif, serif" font-size="11" text-anchor="middle" fill="#333" textLength="40.5" lengthAdjust="spacingAndGlyphs"><tspan font-style="italic">r</tspan><tspan font-style="italic" font-size="7.7" dy="1.9">y′z′</tspan><tspan dy="-1.9"> [kpc]</tspan></text>
<clipPath id="h0"><rect x="282.0" y="1.8" width="73.2" height="137.2"/></clipPath>
<g clip-path="url(#h0)">
<path d="M282.0 0.4 L282.50 0.38 L282.50 3.88 L282.80 3.88 L282.80 7.38 L283.20 7.38 L283.20 10.87 L283.50 10.87 L283.50 14.37 L283.90 14.37 L283.90 17.87 L284.50 17.87 L284.50 21.37 L285.20 21.37 L285.20 24.87 L286.50 24.87 L286.50 28.37 L288.30 28.37 L288.30 31.87 L291.60 31.87 L291.60 35.36 L295.00 35.36 L295.00 38.86 L301.00 38.86 L301.00 42.36 L307.00 42.36 L307.00 45.86 L312.20 45.86 L312.20 49.36 L318.40 49.36 L318.40 52.86 L323.90 52.86 L323.90 56.36 L328.50 56.36 L328.50 59.85 L335.00 59.85 L335.00 63.35 L340.40 63.35 L340.40 66.85 L345.80 66.85 L345.80 70.35 L349.00 70.35 L349.00 73.85 L344.70 73.85 L344.70 77.35 L340.40 77.35 L340.40 80.85 L335.00 80.85 L335.00 84.34 L330.70 84.34 L330.70 87.84 L323.10 87.84 L323.10 91.34 L319.90 91.34 L319.90 94.84 L314.50 94.84 L314.50 98.34 L305.90 98.34 L305.90 101.84 L300.50 101.84 L300.50 105.34 L295.10 105.34 L295.10 108.83 L290.80 108.83 L290.80 112.33 L288.60 112.33 L288.60 115.83 L286.50 115.83 L286.50 119.33 L285.40 119.33 L285.40 122.83 L284.30 122.83 L284.30 126.33 L283.20 126.33 L283.20 129.83 L282.60 129.83 L282.60 133.32 L282.20 133.32 L282.20 136.82 L282.20 136.82 L282.20 140.32 L282.0 140.3 Z" fill="#808080"/>
<path stroke="#b0b0b0" stroke-width="0.9" fill="none" d="M282.0 125.23H355.2M282.0 97.79H355.2M282.0 42.91H355.2M282.0 15.47H355.2"/>
<path d="M282.30 0.38 L282.30 3.88 L282.50 3.88 L282.50 7.38 L282.80 7.38 L282.80 10.87 L283.20 10.87 L283.20 14.37 L284.50 14.37 L284.50 17.87 L284.50 17.87 L284.50 21.37 L284.80 21.37 L284.80 24.87 L286.20 24.87 L286.20 28.37 L288.30 28.37 L288.30 31.87 L293.20 31.87 L293.20 35.36 L297.00 35.36 L297.00 38.86 L306.00 38.86 L306.00 42.36 L311.50 42.36 L311.50 45.86 L318.00 45.86 L318.00 49.36 L323.50 49.36 L323.50 52.86 L330.00 52.86 L330.00 56.36 L332.60 56.36 L332.60 59.85 L337.80 59.85 L337.80 63.35 L351.40 63.35 L351.40 66.85 L344.00 66.85 L344.00 70.35 L350.10 70.35 L350.10 73.85 L345.80 73.85 L345.80 77.35 L342.60 77.35 L342.60 80.85 L338.20 80.85 L338.20 84.34 L330.70 84.34 L330.70 87.84 L324.20 87.84 L324.20 91.34 L316.70 91.34 L316.70 94.84 L311.30 94.84 L311.30 98.34 L303.70 98.34 L303.70 101.84 L297.70 101.84 L297.70 105.34 L293.40 105.34 L293.40 108.83 L289.70 108.83 L289.70 112.33 L287.50 112.33 L287.50 115.83 L286.00 115.83 L286.00 119.33 L284.70 119.33 L284.70 122.83 L283.90 122.83 L283.90 126.33 L283.00 126.33 L283.00 129.83 L282.60 129.83 L282.60 133.32 L282.20 133.32 L282.20 136.82 L282.00 136.82 L282.00 140.32" fill="none" stroke="#ff0000" stroke-width="1.1"/>
<path stroke="#000" stroke-width="0.9" d="M282.0 70.35H355.2"/>
<path stroke="#000" stroke-width="1.4" stroke-dasharray="4 2.6" d="M282.0 72.44H355.2"/>
<path stroke="#ff0000" stroke-width="1.4" stroke-dasharray="4 2.6" d="M282.0 70.30H355.2"/>
</g>
<rect x="282.0" y="1.8" width="73.2" height="137.2" fill="none" stroke="#000" stroke-width="0.9"/>
<path stroke="#000" stroke-width="0.8" fill="none" d="M282.0 138.95h-2M282.0 132.09h-2M282.0 125.23h-3.5M282.0 118.37h-2M282.0 111.51h-2M282.0 104.65h-2M282.0 97.79h-3.5M282.0 90.93h-2M282.0 84.07h-2M282.0 77.21h-2M282.0 70.35h-3.5M282.0 63.49h-2M282.0 56.63h-2M282.0 49.77h-2M282.0 42.91h-3.5M282.0 36.05h-2M282.0 29.19h-2M282.0 22.33h-2M282.0 15.47h-3.5M282.0 8.61h-2M282.0 1.75h-2"/>
<rect x="334.3" y="2.5" width="9.9" height="50.7" fill="#fff"/>
<rect x="344.2" y="2.5" width="10.4" height="57.3" fill="#fff"/>
<text transform="translate(345.9 5.0) rotate(90)" font-family="Liberation Serif, serif" font-size="10.4" fill="#222">−1.52 ± 0.12</text>
<text transform="translate(336.3 4.3) rotate(90)" font-family="Liberation Serif, serif" font-size="10.4" fill="#ff2020">0.04 ± 0.35</text>
<clipPath id="c1"><rect x="43.2" y="173.2" width="231.6" height="137.2"/></clipPath>
<g clip-path="url(#c1)">
<rect x="43.2" y="173.2" width="231.6" height="137.2" fill="#440154"/>
<path fill-rule="evenodd" fill="#460a5d" d="M126.7 303.7 115.7 304.1 104.7 303.4 94.7 301.7 86.7 298.9 79.7 295.2 70.4 288.7 66.5 284.7 62.1 277.7 60.1 275.7 56.4 273.7 47.7 270.0 42.7 266.7 41.7 266.7 41.7 215.7 42.7 215.7 47.7 212.1 60.1 205.7 62.4 203.7 67.1 197.7 70.1 194.7 82.7 185.8 87.7 183.1 92.7 181.1 104.7 178.3 112.7 177.2 120.7 176.7 199.7 176.2 276.7 173.5 276.7 282.8 239.7 285.7 196.7 290.7 179.7 293.7 144.7 301.3 126.7 303.7Z"/>
<path fill-rule="evenodd" fill="#471365" d="M128.7 294.7 118.7 295.2 110.7 294.9 101.3 293.7 94.7 292.1 90.7 289.9 87.5 286.7 85.7 283.7 82.9 276.7 81.1 274.7 76.6 272.7 63.7 270.3 57.7 268.6 52.7 266.4 49.0 263.7 45.9 259.7 42.7 252.7 41.7 252.7 41.7 230.4 42.7 230.4 46.1 222.7 49.0 218.7 52.7 215.6 57.7 213.0 63.7 210.8 75.3 207.7 79.9 205.7 83.3 202.7 88.4 194.7 90.7 192.5 93.5 190.7 97.7 189.1 107.7 186.9 118.7 185.6 175.7 183.8 237.7 180.0 276.7 178.6 276.7 275.3 239.7 278.0 194.7 283.0 180.7 285.3 145.7 292.3 128.7 294.7Z"/>
<path fill-rule="evenodd" fill="#481c6e" d="M132.7 276.7 116.7 277.5 96.7 274.6 81.2 270.7 63.7 267.6 59.7 266.2 55.7 264.2 51.7 260.9 48.6 256.7 46.3 251.7 44.5 244.7 44.2 240.7 45.1 235.7 46.9 229.7 49.3 224.7 51.4 221.7 54.4 218.7 57.3 216.7 61.7 214.4 65.7 212.9 74.7 210.7 84.7 207.7 95.7 202.2 102.7 199.2 111.7 196.0 118.7 194.4 137.7 192.2 223.7 184.1 250.7 182.6 276.7 182.2 276.7 257.7 255.0 259.7 230.7 262.7 189.2 268.7 161.7 273.3 132.7 276.7Z"/>
<path fill-rule="evenodd" fill="#482475" d="M117.7 270.7 99.7 270.9 88.7 270.2 65.7 266.0 61.7 264.6 57.7 262.3 53.7 258.8 50.8 254.7 48.1 248.7 46.6 242.7 46.9 238.7 48.3 233.7 50.4 228.7 52.8 224.7 57.5 219.7 61.7 216.9 64.7 215.4 84.8 209.7 110.7 200.3 119.7 198.1 136.7 195.8 221.7 187.0 248.7 185.8 276.7 185.9 276.7 245.9 270.5 246.7 165.7 266.2 140.7 269.1 117.7 270.7Z"/>
<path fill-rule="evenodd" fill="#472d7b" d="M119.7 268.7 101.7 269.2 88.7 268.7 78.7 267.1 67.7 264.6 64.7 263.8 61.7 262.3 57.7 259.4 54.3 255.7 51.4 250.7 49.1 244.7 48.7 241.7 49.4 237.7 51.1 232.7 53.7 227.7 56.7 223.7 59.7 220.8 62.7 218.6 65.7 217.1 84.7 211.2 110.7 202.4 119.7 200.2 137.7 197.8 162.0 195.7 196.7 191.8 221.7 189.7 234.7 189.1 249.7 189.0 276.7 190.2 276.7 241.4 274.7 241.4 212.7 255.1 169.7 263.4 158.7 265.2 142.7 267.0 119.7 268.7Z"/>
<path fill-rule="evenodd" fill="#463480" d="M114.7 267.7 97.7 268.0 88.7 267.6 77.7 265.6 66.7 262.6 62.6 260.7 58.9 257.7 55.5 253.7 52.7 248.7 50.9 243.7 50.7 240.7 51.4 237.7 53.4 232.7 56.2 227.7 61.6 221.7 66.7 218.6 77.7 214.5 109.7 204.1 116.7 202.3 122.7 201.2 138.7 199.3 163.7 197.4 195.7 194.2 222.7 192.3 234.7 192.2 250.0 192.7 260.7 193.6 276.7 195.6 276.7 237.0 274.7 237.0 250.9 243.7 219.7 251.3 168.7 262.1 156.7 264.0 140.7 265.9 114.7 267.7Z"/>
<path fill-rule="evenodd" fill="#443b84" d="M111.7 266.7 95.7 266.9 87.7 266.4 77.7 264.3 66.7 260.8 62.8 258.7 59.6 255.7 56.4 251.7 53.8 246.7 52.5 242.7 52.7 239.7 53.6 236.7 55.4 232.7 57.8 228.7 61.0 224.7 64.7 221.6 78.0 215.7 112.7 204.6 119.7 203.0 130.7 201.5 140.7 200.5 163.7 199.0 196.7 196.3 224.7 195.1 236.7 195.5 250.7 196.8 262.7 198.8 274.7 201.8 276.7 201.8 276.7 232.7 274.7 232.7 251.7 240.3 222.7 248.4 204.7 252.8 170.7 260.3 159.7 262.3 142.7 264.5 111.7 266.7Z"/>
<path fill-rule="evenodd" fill="#414487" d="M112.7 265.7 96.7 265.9 88.7 265.6 77.7 263.1 67.7 259.4 64.2 257.7 60.9 254.7 57.9 250.7 55.6 246.7 54.2 242.7 54.2 240.7 55.0 237.7 56.8 233.7 59.2 229.7 62.7 225.3 66.1 222.7 77.7 217.1 88.7 213.0 115.7 205.0 136.7 202.1 197.7 198.5 213.7 198.0 225.7 198.1 237.7 199.2 251.7 201.4 263.7 204.4 274.7 208.2 276.7 208.3 276.7 228.2 274.7 228.3 253.0 236.7 233.7 242.9 216.7 247.9 168.7 259.4 157.7 261.4 140.7 263.7 112.7 265.7Z"/>
<path fill-rule="evenodd" fill="#3e4a89" d="M114.7 264.7 97.7 265.0 88.7 264.6 78.7 262.3 66.7 257.2 63.7 255.3 61.2 252.7 58.5 248.7 56.4 244.7 55.8 242.7 55.8 240.7 56.6 237.7 58.0 234.7 61.7 228.8 64.7 225.6 67.7 223.7 79.2 217.7 89.7 213.7 113.7 206.6 120.7 205.2 136.7 203.3 196.7 200.7 212.7 200.6 224.7 201.1 236.7 202.7 250.8 205.7 263.1 209.7 274.7 215.1 276.7 215.1 276.7 223.4 274.7 223.5 264.3 228.7 249.8 234.7 221.7 244.3 200.7 250.2 162.7 259.4 139.7 262.9 114.7 264.7Z"/>
<path fill-rule="evenodd" fill="#3b528b" d="M116.7 263.7 98.7 264.1 88.7 263.7 78.7 261.1 67.7 256.0 64.7 254.1 62.7 252.2 60.2 248.7 58.1 244.7 57.4 242.7 57.3 240.7 59.1 235.7 62.7 229.8 66.7 226.1 77.7 219.6 88.7 215.0 115.7 207.2 123.7 205.9 137.7 204.3 196.7 203.0 212.7 203.3 223.7 204.1 236.7 206.4 251.7 210.6 263.6 215.7 266.9 217.7 268.8 219.7 268.9 220.7 268.3 221.7 265.7 223.7 260.3 226.7 251.8 230.7 228.9 239.7 207.1 246.7 172.7 255.9 159.7 258.8 139.7 262.0 116.7 263.7Z"/>
<path fill-rule="evenodd" fill="#38598c" d="M118.7 262.7 100.7 263.3 89.7 263.0 78.1 259.7 66.7 253.7 63.2 250.7 60.5 246.7 58.9 242.7 58.8 240.7 59.7 237.7 62.7 232.1 66.7 228.0 77.7 220.9 88.7 215.9 115.7 208.2 123.7 206.9 136.7 205.5 194.7 205.2 208.7 205.7 219.8 206.7 231.7 208.8 245.7 213.0 255.7 217.3 258.0 218.7 259.8 220.7 259.9 221.7 259.2 222.7 256.5 224.7 244.7 230.7 224.7 238.9 203.7 245.9 172.7 254.7 159.7 257.7 139.7 261.1 118.7 262.7Z"/>
<path fill-rule="evenodd" fill="#355f8d" d="M120.7 261.7 105.7 262.3 91.7 262.2 87.7 261.7 79.7 259.2 67.7 252.5 64.2 249.7 62.0 246.7 60.5 243.7 60.1 241.7 60.6 238.7 63.2 233.7 66.9 229.7 77.7 222.1 88.7 216.8 115.7 209.2 135.7 206.7 144.7 206.5 192.7 207.3 204.7 208.0 215.7 209.1 226.7 211.0 236.7 213.9 247.7 218.4 250.7 220.4 251.7 221.7 251.6 222.7 250.8 223.7 248.0 225.7 236.2 231.7 220.7 238.2 200.7 245.0 171.7 253.7 158.7 256.9 139.7 260.2 120.7 261.7Z"/>
<path fill-rule="evenodd" fill="#31668e" d="M123.7 260.7 108.7 261.4 92.7 261.4 88.7 261.1 80.7 258.4 76.7 256.5 67.6 250.7 64.7 248.2 62.7 245.4 61.5 242.7 61.4 240.7 61.9 238.7 64.7 233.8 67.7 231.0 77.7 223.4 88.7 217.8 114.7 210.5 121.7 209.3 134.7 207.9 143.7 207.6 172.7 208.6 196.7 209.7 211.7 211.3 222.7 213.2 231.7 215.9 240.6 219.7 243.5 221.7 244.0 222.7 243.9 223.7 243.0 224.7 240.1 226.7 232.7 230.7 222.7 235.2 204.7 242.0 176.7 250.9 161.7 255.1 145.7 258.3 137.7 259.5 123.7 260.7Z"/>
<path fill-rule="evenodd" fill="#2f6c8e" d="M103.7 260.7 94.7 260.7 88.7 260.2 77.7 255.9 67.7 249.0 64.7 246.1 63.2 243.7 62.6 241.7 62.8 239.7 63.7 237.6 66.7 233.7 77.6 224.7 88.7 218.7 115.7 211.3 123.7 210.1 135.7 208.9 143.7 208.8 171.7 210.2 195.7 211.9 207.7 213.4 218.7 215.4 226.9 217.7 233.9 220.7 236.7 222.7 237.1 223.7 236.8 224.7 235.9 225.7 231.3 228.7 216.4 235.7 200.4 241.7 166.6 252.7 154.7 255.6 138.7 258.6 118.7 260.2 103.7 260.7Z"/>
<path fill-rule="evenodd" fill="#2c728e" d="M111.7 259.7 97.7 259.9 89.7 259.5 87.7 259.0 79.7 255.8 76.7 254.0 67.7 247.1 65.7 245.2 64.7 243.7 64.0 241.7 64.6 238.7 67.7 234.7 77.7 225.9 88.7 219.6 114.7 212.5 120.7 211.5 132.7 210.2 141.7 209.9 156.7 210.8 173.7 212.0 200.7 214.8 212.7 217.0 221.7 219.3 228.7 222.3 230.4 223.7 230.7 224.7 229.3 226.7 226.2 228.7 212.7 235.1 199.7 240.2 166.7 251.5 155.7 254.3 139.7 257.5 111.7 259.7Z"/>
<path fill-rule="evenodd" fill="#2a788e" d="M115.7 258.7 96.7 259.0 89.7 258.7 87.7 258.2 77.9 253.7 68.7 246.1 65.8 242.7 65.5 241.7 65.7 239.7 67.8 236.7 77.7 227.1 88.7 220.5 112.7 214.0 118.7 212.8 127.7 211.7 137.7 211.0 143.7 211.1 169.7 213.3 194.7 216.3 205.7 218.2 214.7 220.3 221.5 222.7 224.3 224.7 224.6 225.7 222.8 227.7 217.7 230.7 211.3 233.7 199.0 238.7 167.7 250.0 156.7 253.1 140.7 256.5 115.7 258.7Z"/>
<path fill-rule="evenodd" fill="#277e8e" d="M118.7 257.7 98.7 258.2 88.7 257.6 79.9 253.7 76.9 251.7 68.3 243.7 67.2 241.7 67.5 239.7 68.8 237.7 77.7 228.4 88.7 221.5 112.7 214.9 118.7 213.8 126.7 212.9 136.7 212.1 141.7 212.1 173.7 215.5 194.7 218.6 203.7 220.3 213.7 223.1 217.1 224.7 218.2 225.7 218.3 226.7 216.4 228.7 206.7 233.7 176.4 245.7 166.7 249.1 155.7 252.3 140.7 255.6 118.7 257.7Z"/>
<path fill-rule="evenodd" fill="#25848e" d="M120.7 256.7 99.7 257.4 88.7 256.8 80.1 252.7 77.2 250.7 69.6 242.7 69.1 241.7 69.3 239.7 77.7 229.7 88.7 222.4 112.7 215.9 118.7 214.8 126.7 213.9 136.7 213.2 141.7 213.3 170.7 216.8 199.7 221.9 209.0 224.7 211.0 225.7 212.1 226.7 212.1 227.7 210.0 229.7 202.3 233.7 175.5 244.7 165.7 248.3 155.7 251.2 140.7 254.8 120.7 256.7Z"/>
<path fill-rule="evenodd" fill="#238a8d" d="M123.7 255.7 100.7 256.6 93.7 256.4 88.7 255.9 80.7 251.9 77.5 249.7 71.4 242.7 70.9 241.7 71.1 239.7 75.4 233.7 78.0 230.7 88.7 223.3 96.7 220.9 112.7 216.9 118.7 215.8 126.7 215.0 136.7 214.3 141.7 214.4 167.7 217.9 196.7 223.7 203.1 225.7 205.1 226.7 206.1 227.7 206.1 228.7 205.2 229.7 200.1 232.7 175.7 243.3 164.7 247.4 155.7 250.2 141.7 253.7 136.7 254.5 123.7 255.7Z"/>
<path fill-rule="evenodd" fill="#21918c" d="M104.7 255.7 93.7 255.6 89.7 255.2 87.7 254.6 79.7 250.2 76.7 247.6 74.3 244.7 72.6 241.7 72.4 240.7 73.1 238.7 76.5 233.7 78.7 231.3 88.7 224.2 96.7 221.8 112.7 217.9 119.7 216.7 127.7 215.9 136.7 215.4 141.7 215.6 166.7 219.4 193.7 225.4 197.7 226.7 199.5 227.7 200.4 228.7 200.2 229.7 197.6 231.7 187.4 236.7 169.7 244.4 154.7 249.4 142.7 252.6 136.7 253.7 118.7 255.2 104.7 255.7Z"/>
<path fill-rule="evenodd" fill="#1f968b" d="M111.7 254.7 96.7 254.9 88.7 254.1 80.7 249.7 77.7 247.4 74.3 242.7 73.8 240.7 74.3 238.7 76.7 234.8 78.7 232.5 87.7 225.8 89.7 224.8 112.7 218.9 119.7 217.7 127.7 217.0 136.7 216.5 140.7 216.6 160.1 219.7 172.7 222.2 187.7 226.2 192.7 227.9 194.0 228.7 194.7 229.7 194.4 230.7 191.7 232.7 177.6 239.7 167.7 244.0 155.7 248.1 143.7 251.5 137.7 252.7 122.7 254.1 111.7 254.7Z"/>
<path fill-rule="evenodd" fill="#1e9c89" d="M115.7 253.7 97.7 254.0 88.7 253.3 80.7 248.5 77.7 246.1 75.9 243.7 75.0 241.7 75.4 238.7 76.7 236.3 78.8 233.7 87.7 226.7 89.7 225.7 112.7 219.9 119.7 218.8 127.7 218.0 136.7 217.5 140.7 217.7 158.7 220.8 171.5 223.7 181.8 226.7 187.3 228.7 188.9 229.7 189.4 230.7 188.9 231.7 186.1 233.7 176.7 238.7 166.7 243.2 155.7 247.1 138.7 251.7 115.7 253.7Z"/>
<path fill-rule="evenodd" fill="#1fa287" d="M118.7 252.7 98.7 253.2 88.7 252.4 78.6 245.7 76.4 242.7 75.9 240.7 76.0 239.7 77.4 236.7 79.7 234.1 87.7 227.7 89.7 226.6 111.7 221.1 124.7 219.3 136.7 218.6 144.7 219.5 158.7 222.3 171.7 225.5 181.1 228.7 184.3 230.7 184.5 231.7 183.9 232.7 177.7 236.7 167.7 241.5 156.7 245.7 138.7 250.8 118.7 252.7Z"/>
<path fill-rule="evenodd" fill="#22a884" d="M121.7 251.7 99.7 252.4 92.7 252.1 88.7 251.5 78.9 244.7 77.0 241.7 76.9 239.7 77.8 237.7 79.7 235.4 87.7 228.7 89.7 227.5 97.7 225.3 111.7 222.1 124.7 220.3 136.7 219.7 144.7 220.7 157.7 223.5 169.8 226.7 177.9 229.7 179.5 230.7 180.3 231.7 180.2 232.7 179.3 233.7 174.8 236.7 166.8 240.7 156.5 244.7 139.7 249.7 121.7 251.7Z"/>
<path fill-rule="evenodd" fill="#28ae80" d="M123.7 250.7 101.7 251.5 89.7 250.9 87.7 250.1 79.7 244.1 78.0 241.7 77.9 239.7 79.0 237.7 80.8 235.7 87.7 229.6 89.7 228.4 97.7 226.2 111.7 223.1 118.7 222.0 125.7 221.3 137.7 220.8 144.7 221.8 157.7 224.9 169.7 228.4 174.9 230.7 176.2 231.7 176.6 232.7 175.1 234.7 170.2 237.7 162.7 241.2 154.7 244.2 139.7 248.9 123.7 250.7Z"/>
<path fill-rule="evenodd" fill="#2fb47c" d="M102.7 250.7 94.7 250.5 88.7 249.7 81.8 244.7 79.8 242.7 78.9 240.7 79.5 238.7 81.1 236.7 87.7 230.6 89.7 229.4 97.7 227.2 111.7 224.1 118.7 223.0 125.7 222.3 136.7 221.9 143.7 222.8 156.7 226.1 165.2 228.7 170.4 230.7 172.0 231.7 172.9 232.7 172.9 233.7 170.9 235.7 163.4 239.7 154.7 243.2 140.7 247.7 135.7 248.7 122.7 249.9 102.7 250.7Z"/>
<path fill-rule="evenodd" fill="#38b977" d="M111.7 249.7 96.7 249.8 88.7 248.9 81.2 242.7 80.2 240.7 80.3 239.7 82.5 236.7 87.7 231.6 89.7 230.3 97.7 228.1 110.7 225.3 117.7 224.1 124.7 223.5 136.7 223.0 143.7 224.0 155.7 227.2 163.2 229.7 167.8 231.7 169.1 232.7 169.5 233.7 169.1 234.7 168.0 235.7 160.6 239.7 153.7 242.5 141.7 246.6 136.7 247.7 130.7 248.4 111.7 249.7Z"/>
<path fill-rule="evenodd" fill="#44bf70" d="M115.7 248.7 98.7 249.0 89.7 248.3 87.7 247.3 82.6 242.7 81.5 240.7 81.6 239.7 82.9 237.7 87.6 232.7 89.7 231.3 96.7 229.3 109.7 226.5 123.7 224.6 136.7 224.1 141.7 224.7 158.7 229.7 163.5 231.7 165.2 232.7 166.0 233.7 166.0 234.7 165.1 235.7 160.0 238.7 152.9 241.7 141.7 245.7 134.7 247.1 115.7 248.7Z"/>
<path fill-rule="evenodd" fill="#50c46a" d="M118.7 247.7 99.7 248.1 89.7 247.4 87.7 246.4 84.0 242.7 82.9 240.7 83.0 239.7 86.7 234.6 88.7 232.7 89.7 232.2 96.7 230.2 108.7 227.7 122.7 225.7 135.7 225.2 140.7 225.7 156.7 230.5 160.7 232.3 162.5 233.7 162.8 234.7 162.2 235.7 159.3 237.7 153.7 240.3 142.7 244.5 135.7 246.1 118.7 247.7Z"/>
<path fill-rule="evenodd" fill="#5ec962" d="M120.7 246.7 99.7 247.3 89.7 246.4 87.7 245.4 85.2 242.7 84.2 240.7 84.2 239.7 85.3 237.7 87.7 234.6 88.7 233.7 90.7 232.8 97.7 230.9 109.7 228.5 123.7 226.7 136.7 226.3 141.7 227.1 155.5 231.7 158.7 233.5 159.6 234.7 159.2 235.7 156.5 237.7 141.7 243.8 135.7 245.2 120.7 246.7Z"/>
<path fill-rule="evenodd" fill="#6ccd5a" d="M122.7 245.7 101.7 246.4 90.7 245.7 88.7 245.2 87.0 243.7 85.7 241.7 85.3 239.7 86.2 237.7 87.7 235.6 88.7 234.7 91.7 233.5 98.7 231.7 109.7 229.5 122.7 227.8 135.7 227.4 140.7 228.0 152.7 232.2 155.4 233.7 156.3 234.7 156.3 235.7 153.8 237.7 141.7 242.9 136.7 244.2 122.7 245.7Z"/>
<path fill-rule="evenodd" fill="#7ad151" d="M123.7 244.7 104.7 245.5 92.7 245.1 89.7 244.5 88.1 243.7 86.6 241.7 86.2 239.7 87.1 237.7 88.7 235.7 92.7 234.2 109.7 230.6 121.7 228.9 133.7 228.5 139.7 229.0 147.8 231.7 151.8 233.7 153.0 234.7 153.2 235.7 151.0 237.7 141.7 242.0 136.7 243.3 123.7 244.7Z"/>
<path fill-rule="evenodd" fill="#8bd646" d="M124.7 243.8 108.7 244.6 93.7 244.2 88.7 243.1 87.5 241.7 87.1 239.7 88.7 236.9 94.5 234.7 111.7 231.3 122.7 229.9 134.7 229.7 139.7 230.2 146.7 232.7 149.7 234.7 150.1 235.7 149.6 236.7 146.7 238.7 139.7 241.6 135.7 242.5 124.7 243.8Z"/>
<path fill-rule="evenodd" fill="#9bd93c" d="M103.7 243.7 96.7 243.5 90.8 242.7 88.7 241.8 88.1 239.7 88.7 238.3 89.7 237.5 95.7 235.4 110.7 232.5 121.7 231.1 131.7 230.8 138.7 231.2 144.7 233.3 146.8 234.7 147.4 235.7 147.1 236.7 144.4 238.7 140.7 240.3 136.7 241.4 119.7 243.3 103.7 243.7Z"/>
<path fill-rule="evenodd" fill="#addc30" d="M109.7 242.7 99.7 242.6 94.7 242.2 90.7 241.1 89.8 240.7 89.6 239.7 90.5 238.7 92.4 237.7 97.7 236.1 110.7 233.6 120.7 232.3 129.7 232.0 137.7 232.3 142.3 233.7 143.9 234.7 144.7 235.7 144.6 236.7 142.7 238.2 139.7 239.6 136.7 240.4 122.7 242.1 109.7 242.7Z"/>
<path fill-rule="evenodd" fill="#bddf26" d="M126.7 240.7 115.7 241.5 101.7 241.6 95.7 240.9 94.5 240.7 93.4 239.7 94.7 238.5 100.6 236.7 111.2 234.7 119.7 233.6 127.7 233.2 136.7 233.5 139.7 234.2 141.8 235.7 141.9 236.7 140.9 237.7 138.7 238.7 134.5 239.7 126.7 240.7Z"/>
<path fill-rule="evenodd" fill="#cde11d" d="M125.7 239.7 116.7 240.4 107.7 240.3 100.6 239.7 100.6 238.7 103.5 237.7 112.7 235.8 122.0 234.7 129.7 234.6 135.7 235.1 137.9 235.7 138.4 236.7 137.1 237.7 135.7 238.1 125.7 239.7Z"/>
<path fill-rule="evenodd" fill="#dfe318" d="M119.7 238.7 114.7 238.7 114.0 237.7 119.7 236.6 127.0 236.7 127.0 237.7 119.7 238.7Z"/>
<path fill="none" stroke="#111" stroke-opacity="0.8" stroke-width="0.7" d="M41.7 231.6 42.7 231.3 44.3 229.7 45.5 226.7 47.7 224.1 49.4 220.7 53.7 216.1 55.7 214.4 58.7 213.6 64.7 211.0 68.7 210.2 71.7 211.2 72.7 211.0 74.8 209.7 78.7 208.6 80.7 206.4 81.7 205.7 84.7 205.6 86.6 204.7 87.7 201.9 90.7 200.1 91.7 197.6 93.0 196.7 91.7 195.8 90.7 193.9 90.7 191.4 91.7 190.9 94.7 192.0 97.7 191.1 99.7 192.4 100.7 192.5 104.7 191.7 107.7 190.4 110.7 190.2 111.9 189.7 112.6 188.7 111.7 186.7 111.7 186.2 112.7 185.8 115.7 187.4 118.7 188.3 121.7 190.1 122.7 190.0 124.7 189.2 129.7 189.6 131.0 188.7 131.7 187.7 132.7 187.4 134.7 187.9 137.7 190.4 140.7 190.7 147.7 187.5 150.7 187.6 155.7 186.3 157.7 186.7 160.7 185.7 167.7 186.2 169.6 185.7 171.7 183.8 172.7 183.6 174.7 184.9 175.7 185.2 178.7 185.1 182.7 186.6 185.4 185.7 187.7 183.4 188.7 182.9 191.7 183.5 193.7 183.0 196.7 183.3 198.7 182.9 205.7 183.1 212.7 182.3 218.7 180.2 221.7 182.1 227.7 182.3 230.7 181.4 234.7 180.8 238.7 182.2 241.7 181.4 243.7 182.7 248.7 181.0 251.7 179.6 254.7 179.2 255.7 179.3 258.7 180.8 260.7 180.8 262.7 182.0 264.7 182.3 266.2 181.7 267.7 180.4 269.7 179.8 271.7 178.6 274.7 178.4 276.7 179.0M106.7 187.8 105.7 188.4 104.7 188.6 104.4 187.7 105.7 186.5 106.8 186.7 106.7 187.8M41.7 245.9 42.7 246.6 43.7 246.0 43.8 244.7 42.7 244.4 41.7 245.5M276.7 274.4 275.9 273.7 273.7 273.0 270.7 271.3 269.7 271.2 268.1 271.7 266.7 272.7 264.8 274.7 262.7 275.2 261.7 275.0 259.3 273.7 257.7 271.5 256.7 270.8 255.7 270.8 253.7 271.0 252.1 271.7 252.1 272.7 252.7 274.7 252.6 275.7 251.7 277.3 250.7 278.0 247.7 276.7 246.7 277.3 245.7 278.6 244.7 278.8 243.7 278.6 243.0 277.7 242.7 276.4 241.7 276.2 238.7 277.0 235.7 276.7 231.7 274.7 230.7 274.8 229.7 275.5 225.7 278.9 223.7 279.5 221.7 279.7 220.7 279.5 218.7 277.8 217.7 277.4 215.7 277.4 212.7 278.2 208.8 276.7 207.0 274.7 205.7 271.8 204.9 272.7 205.2 275.7 205.2 278.7 203.7 280.0 200.7 279.4 196.7 279.8 195.9 278.7 195.7 277.6 193.7 279.0 191.7 277.8 190.7 277.7 188.3 278.7 187.4 279.7 186.7 281.5 185.7 281.7 182.7 281.2 181.7 281.7 180.2 282.7 179.2 284.7 177.7 285.6 171.7 285.2 168.7 284.4 167.7 284.8 164.7 286.8 162.7 287.4 161.7 287.3 160.7 286.2 159.7 283.9 158.7 283.7 156.1 284.7 152.7 286.6 151.7 286.6 149.7 285.6 148.7 285.7 148.1 286.7 149.0 289.7 148.7 290.5 147.5 291.7 145.7 292.5 144.7 292.4 143.1 290.7 139.7 289.4 138.4 289.7 136.7 292.6 135.7 291.7 135.6 290.7 136.8 288.7 136.6 287.7 135.7 287.1 134.7 287.0 133.7 287.3 131.7 288.8 128.5 288.7 128.4 291.7 127.4 292.7 124.7 293.8 123.7 293.8 121.7 292.1 117.7 291.7 114.7 293.2 112.7 292.1 110.7 290.4 109.7 290.3 108.7 290.7 106.7 292.2 103.7 292.5 102.7 291.8 100.7 289.2 99.7 288.8 98.7 288.9 97.7 290.8 96.7 291.2 95.5 290.7 95.6 289.7 96.9 288.7 97.4 287.7 96.1 285.7 94.7 284.7 93.2 284.7 91.7 286.3 90.7 286.7 89.7 285.7 90.1 282.7 89.5 280.7 87.4 278.7 86.2 275.7 84.2 273.7 81.4 271.7 79.7 271.3 76.7 272.1 68.7 270.6 65.7 269.4 63.7 268.9 59.7 269.6 58.7 269.3 52.7 265.0 49.8 263.7 48.6 262.7 48.0 261.7 47.3 258.7 45.6 256.7 46.3 254.7 45.7 253.1 43.7 251.2 42.7 251.2 41.7 251.7M200.7 275.7 200.3 274.7 201.2 272.7 201.1 271.7 200.7 271.1 199.7 270.7 198.7 271.3 198.4 272.7 199.7 275.7 200.7 275.7M246.3 275.7 246.6 274.7 246.3 273.7 245.3 272.7 243.7 272.0 242.8 272.7 243.1 274.7 243.7 275.6 245.7 275.9 246.3 275.7M175.1 277.7 174.4 277.7 174.7 278.0 175.1 277.7M169.0 281.7 168.7 279.0 167.7 278.4 166.4 279.7 166.5 280.7 167.7 282.1 168.7 282.2 169.0 281.7M276.7 238.8 274.7 239.0 271.7 240.4 268.7 241.3 266.7 242.3 264.7 242.1 263.7 242.3 261.7 243.5 258.7 243.0 256.5 244.7 254.7 245.4 253.7 245.4 252.7 245.0 250.7 243.6 249.7 243.9 247.7 245.4 241.2 246.7 236.8 249.7 235.7 250.1 230.7 248.9 226.7 250.3 224.7 252.2 222.7 252.9 220.7 252.3 218.7 250.8 217.7 251.1 214.7 254.2 213.7 254.7 212.7 254.6 209.7 253.3 207.7 253.1 206.7 253.5 205.7 254.9 204.7 255.5 202.7 256.0 199.7 257.6 193.7 257.7 190.7 258.7 188.7 258.5 184.7 260.0 179.7 260.5 176.7 261.6 172.7 261.2 167.7 262.8 164.7 262.9 159.7 264.0 152.7 264.6 150.7 265.6 144.7 265.8 139.7 267.5 131.7 267.0 124.7 268.4 114.7 268.3 111.7 268.8 108.7 267.9 107.7 267.9 101.7 268.1 91.7 268.9 88.7 268.4 85.7 267.1 82.7 267.0 79.7 266.3 75.7 266.4 70.7 264.1 63.7 263.2 62.0 262.7 59.7 260.5 58.1 259.7 57.4 257.7 56.7 256.7 52.4 251.7 52.1 250.7 52.8 248.7 52.9 247.7 51.7 245.2 50.1 243.7 49.7 242.8 48.9 238.7 49.3 237.7 51.2 235.7 53.7 231.1 54.6 228.7 56.7 225.7 59.2 223.7 62.7 218.7 64.7 216.9 72.7 216.5 73.7 216.1 76.7 213.5 77.7 213.1 80.7 213.1 86.7 211.2 91.7 208.6 94.7 208.1 97.7 207.0 103.7 205.9 109.7 203.8 111.7 202.8 112.7 202.6 115.7 202.8 117.7 202.1 128.7 200.3 131.7 198.6 133.7 197.9 135.7 198.0 138.7 199.0 148.7 197.7 152.7 198.0 156.7 197.3 158.7 196.7 161.7 196.7 167.7 195.3 172.7 196.6 173.7 196.3 175.7 194.2 179.7 194.4 183.7 195.2 184.7 195.1 188.7 193.3 193.7 193.7 194.7 193.5 197.7 191.9 198.7 191.8 200.7 191.8 203.7 192.5 205.7 192.0 206.7 192.0 209.7 193.2 210.7 193.2 212.7 192.6 217.7 190.2 219.7 190.1 222.7 191.6 224.7 190.6 226.7 191.1 227.7 191.0 230.7 189.4 231.7 189.2 234.7 189.6 236.7 188.6 237.7 188.6 240.1 190.7 241.7 191.3 245.7 190.1 248.7 190.9 251.7 190.7 253.7 191.0 255.7 190.7 256.7 190.1 257.7 190.1 259.7 190.7 260.7 190.6 262.7 189.8 263.7 189.7 265.3 190.7 266.6 192.7 267.7 192.9 269.7 192.7 271.7 191.8 274.7 191.8 276.7 190.0M108.7 263.7 104.7 263.4 102.7 264.1 98.7 264.0 94.7 264.4 85.7 262.0 81.7 260.3 77.7 260.5 73.7 259.5 67.7 254.7 64.7 253.0 61.7 247.7 60.7 244.6 58.6 241.7 58.4 240.7 59.5 236.7 61.7 233.6 63.7 230.0 66.7 227.1 69.7 226.2 74.9 221.7 77.7 219.8 82.7 219.1 86.7 216.3 89.7 216.0 93.7 214.3 97.7 213.6 100.7 212.0 104.7 210.8 106.7 209.5 109.7 209.0 112.7 207.5 116.7 207.6 118.7 206.8 123.7 205.9 125.7 206.3 128.7 206.1 131.7 206.4 132.7 206.1 134.7 204.9 140.7 203.8 144.7 204.2 146.7 203.3 147.7 203.4 150.7 204.6 154.7 205.1 158.5 203.7 159.7 203.5 161.7 203.9 163.7 204.7 166.7 205.1 170.7 204.7 173.7 203.5 175.7 203.5 179.7 204.2 183.7 203.1 192.7 204.3 194.7 202.6 195.7 202.2 196.8 202.7 197.2 204.7 197.7 204.9 202.7 203.9 204.7 203.2 205.7 203.8 206.4 206.7 207.7 207.4 208.7 207.6 209.7 207.1 210.7 205.9 211.7 205.3 215.7 204.6 216.7 204.9 217.8 206.7 222.7 208.9 223.7 209.0 225.9 207.7 227.7 205.7 228.7 205.9 229.4 206.7 230.7 207.4 234.7 207.3 235.7 208.0 237.0 210.7 237.7 211.3 238.7 211.5 239.7 211.1 241.7 208.7 242.7 208.2 247.7 208.2 250.0 209.7 251.0 212.7 252.6 215.7 253.7 216.0 255.7 216.0 258.2 220.7 260.8 221.7 261.7 224.9 262.7 224.5 263.7 223.5 264.0 223.7 264.0 224.7 262.7 227.2 261.7 227.4 256.7 226.3 255.7 226.4 254.7 227.3 253.7 229.6 250.7 228.0 249.7 227.9 248.7 228.5 247.9 229.7 247.4 231.7 246.7 232.8 244.7 233.7 242.7 235.2 240.7 235.5 238.6 234.7 236.7 234.7 235.7 235.2 233.7 237.2 227.7 238.6 225.7 238.6 223.7 239.0 220.7 240.3 217.7 242.9 215.7 243.2 212.7 243.2 211.0 244.7 205.7 248.0 202.7 248.4 199.7 246.8 198.7 246.9 196.7 249.6 193.7 249.2 191.7 249.4 187.7 252.0 184.7 252.5 176.7 255.3 173.7 255.0 170.7 256.1 166.7 256.8 164.6 257.7 162.7 258.0 159.7 257.8 155.7 259.2 150.7 259.3 139.7 262.0 135.7 262.3 132.7 263.0 121.7 262.5 117.7 263.0 114.7 262.8 112.7 263.3 108.7 263.7M270.7 222.6 269.7 221.7 267.6 218.7 269.7 217.3 270.7 217.4 271.2 218.7 271.4 220.7 270.7 222.6M121.7 259.7 114.7 258.7 107.7 259.9 103.7 259.1 98.7 259.0 93.7 259.9 88.7 258.8 85.6 256.7 79.7 255.3 75.7 251.9 68.7 246.9 65.8 245.7 63.1 240.7 63.0 239.7 63.7 238.9 65.7 238.3 66.5 237.7 67.9 234.7 68.7 233.9 71.7 233.3 72.4 232.7 74.5 229.7 77.7 226.6 78.7 225.8 80.7 225.0 84.7 221.7 86.7 220.5 89.7 220.1 97.7 217.7 102.7 215.2 105.7 215.6 106.7 215.3 108.7 214.1 111.7 213.7 114.7 212.7 118.7 213.2 121.7 211.9 124.7 211.7 127.7 210.1 128.7 210.0 131.7 210.4 134.7 211.3 136.7 210.5 137.7 210.4 145.7 212.7 147.7 212.1 150.7 209.8 151.7 209.5 153.7 210.1 155.7 212.0 156.7 212.5 160.7 212.1 163.7 212.7 165.7 211.6 172.7 210.8 174.7 211.3 177.7 213.3 179.7 213.6 181.7 214.6 183.7 214.5 186.7 213.1 187.7 213.1 189.7 214.3 193.7 216.0 194.7 216.2 197.7 215.1 198.7 215.7 198.8 216.7 199.5 217.7 200.7 217.9 201.6 217.7 202.1 216.7 201.8 215.7 202.7 215.4 203.0 215.7 203.2 217.7 204.4 218.7 206.7 219.2 210.7 218.6 212.7 215.8 217.7 219.7 218.2 221.7 218.7 222.3 220.7 223.2 223.7 226.2 225.3 224.7 226.7 224.3 227.7 224.7 228.3 225.7 227.1 226.7 225.7 227.2 224.7 227.2 223.0 229.7 219.7 230.8 217.7 233.3 216.7 233.8 214.7 234.0 211.7 232.9 208.7 234.1 207.7 234.3 205.7 233.9 204.8 234.7 203.7 237.2 200.7 239.8 193.7 242.0 191.7 243.7 190.7 244.0 186.7 243.1 184.8 243.7 181.7 245.1 179.7 247.4 178.7 247.9 175.7 247.4 173.7 248.1 170.7 250.0 165.7 250.7 161.7 252.5 156.7 253.8 154.7 253.8 151.7 253.0 149.7 253.3 148.6 253.7 146.2 255.7 144.7 256.4 140.7 257.2 137.7 257.1 135.7 258.4 133.7 259.0 129.7 258.3 126.7 258.3 122.7 259.7 121.7 259.7M113.7 255.7 105.7 255.2 91.7 255.1 86.7 252.8 83.4 249.7 81.7 249.4 79.7 249.7 77.7 249.0 76.5 247.7 74.9 243.7 72.2 240.7 72.0 239.7 72.5 238.7 74.7 236.0 76.7 234.3 77.8 231.7 78.7 230.3 79.7 229.5 82.7 228.8 87.7 225.7 90.7 225.0 94.7 223.2 97.7 223.2 99.7 222.7 103.1 220.7 108.7 218.3 114.7 217.6 116.7 218.2 119.7 218.0 123.7 216.3 126.7 216.4 132.7 217.5 136.7 215.8 139.7 215.5 144.0 216.7 146.7 218.3 147.7 218.5 150.7 218.6 154.7 217.5 161.7 219.8 162.7 219.7 164.5 218.7 165.7 218.5 166.7 219.3 167.7 220.5 171.7 219.7 172.7 220.1 173.7 221.2 174.7 221.7 176.7 221.0 177.7 221.3 178.7 222.9 179.7 223.2 183.1 221.7 184.7 221.5 185.2 221.7 185.9 222.7 185.2 226.7 185.4 227.7 186.7 228.7 187.7 228.1 188.9 226.7 190.7 225.9 198.7 227.3 199.7 227.8 200.6 228.7 200.9 229.7 199.7 230.9 196.7 230.8 194.6 232.7 188.7 233.2 187.8 233.7 187.5 234.7 187.7 235.2 189.6 236.7 187.7 238.2 186.7 238.4 185.7 237.8 185.2 236.7 184.0 235.7 182.7 235.5 181.7 237.7 180.7 238.6 178.7 239.0 177.3 239.7 176.1 240.7 174.7 242.9 168.4 245.7 164.7 246.4 162.7 246.1 161.7 246.2 160.7 246.9 158.7 249.1 157.7 249.6 149.7 250.1 141.7 252.7 139.7 252.9 135.7 254.2 134.7 254.4 132.7 254.1 129.7 255.0 124.7 254.9 117.7 253.1 116.7 253.4 115.7 254.9 113.7 255.7M204.7 229.0 203.8 228.7 204.7 228.3 205.4 228.7 204.7 229.0M108.7 251.7 103.7 252.1 96.7 251.0 92.7 251.5 89.7 250.9 88.7 250.4 85.7 247.2 82.2 245.7 80.9 244.7 78.0 240.7 78.1 239.7 79.4 236.7 80.7 235.3 82.7 234.4 84.7 232.9 86.7 230.3 89.7 229.3 91.7 227.8 92.7 227.6 94.7 228.4 96.7 228.5 99.7 226.2 102.7 225.2 103.7 224.6 104.7 224.3 107.7 225.7 111.7 223.7 120.7 222.5 123.7 221.1 125.7 221.7 128.7 221.5 131.7 222.1 135.7 221.4 139.7 223.2 140.7 223.2 143.7 222.8 146.7 221.6 148.7 221.5 150.6 222.7 151.1 224.7 151.7 225.1 158.7 225.9 163.7 225.9 165.0 226.7 165.7 228.3 166.7 228.7 168.7 228.3 169.7 228.6 170.7 230.0 173.7 231.2 174.6 232.7 174.8 233.7 174.3 234.7 172.7 235.7 170.7 236.5 167.7 237.0 165.7 237.0 162.7 239.4 158.7 240.3 154.7 241.9 152.6 243.7 145.7 245.7 143.9 247.7 142.7 248.5 141.7 248.7 138.7 247.8 135.7 249.1 130.7 248.9 124.7 250.5 120.7 251.0 115.7 249.9 108.7 251.7M101.7 248.9 98.9 248.7 94.7 247.0 90.7 247.3 88.7 246.2 86.1 243.7 84.4 240.7 84.3 239.7 85.7 238.7 87.3 235.7 88.7 234.0 89.7 233.5 93.7 234.2 94.7 233.7 95.7 232.3 96.7 231.9 106.0 230.7 110.7 227.9 114.7 227.9 116.7 228.9 117.7 229.0 118.7 228.8 121.7 227.0 127.7 227.4 131.7 226.0 133.7 226.2 135.7 227.1 137.7 227.2 139.7 227.8 143.7 227.7 145.7 229.7 149.7 230.0 153.6 232.7 153.7 233.7 153.4 234.7 152.5 236.7 150.4 238.7 148.7 241.1 145.7 242.1 142.7 242.4 139.7 243.2 135.7 245.5 127.7 245.2 124.7 246.5 121.7 246.9 119.7 248.0 117.7 247.7 114.7 245.8 113.7 245.7 109.7 247.5 106.7 247.3 104.6 247.7 101.7 248.9M156.7 234.9 156.6 234.7 156.7 234.9M112.7 242.7 110.7 242.5 107.7 241.2 102.7 240.8 97.7 242.3 96.6 241.7 95.7 240.0 93.7 241.1 92.7 240.6 92.1 239.7 91.9 238.7 92.7 237.9 93.7 238.0 95.3 238.7 95.7 239.1 97.6 235.7 98.7 235.0 99.7 234.6 107.7 233.7 110.7 232.4 111.7 232.4 114.7 233.6 118.7 233.0 120.4 233.7 122.7 235.2 123.7 234.7 123.4 233.7 123.5 232.7 124.7 231.7 126.7 231.6 129.7 230.8 130.7 230.8 132.7 233.1 133.7 233.1 135.7 232.5 136.7 233.9 139.7 233.2 140.7 233.2 141.5 233.7 141.7 234.7 140.7 238.8 137.7 238.6 135.7 239.0 132.2 241.7 130.7 242.2 128.7 242.1 127.7 241.7 126.7 240.4 125.7 240.4 125.1 241.7 123.7 242.5 120.7 241.0 119.7 241.0 116.7 242.3 112.7 242.7"/>
<path stroke="#cfcfcf" stroke-opacity="0.85" stroke-width="1.4" fill="none" d="M81.80 173.2V310.4M120.40 173.2V310.4M159.00 173.2V310.4M197.60 173.2V310.4M236.20 173.2V310.4M43.2 296.66H274.8M43.2 269.22H274.8M43.2 214.34H274.8M43.2 186.90H274.8"/>
<path stroke="#000" stroke-width="0.8" d="M43.2 241.78H274.8"/>
<path stroke="#000" stroke-width="1.2" d="M81.3 173.2V310.4"/>
<path stroke="#f02020" stroke-width="1.1" stroke-dasharray="3.5 2" fill="none" d="M43.2 243.15L274.8 213.52"/>
<path stroke="#bb0010" stroke-width="1.5" fill="none" stroke-linejoin="round" d="M46.0 242.3 L60.0 240.5 L76.6 238.6 L93.0 237.0 L110.2 235.3 L130.0 232.8 L155.0 229.6 L170.0 227.0 L188.6 224.2 L205.0 221.8 L222.2 219.5 L240.0 217.1 L255.8 215.1 L274.8 213.4"/>
</g>
<text x="263.5" y="185.6" font-family="Liberation Serif, serif" font-size="12" font-weight="bold" fill="#fff" stroke="#000" stroke-width="2.6" stroke-linejoin="round" paint-order="stroke" text-anchor="end" textLength="122" lengthAdjust="spacingAndGlyphs"><tspan font-style="italic">a</tspan><tspan font-size="8.5" dy="2.2">1</tspan><tspan dy="-2.2"> </tspan>= 7.0 ± 2.5, <tspan font-style="italic">a</tspan><tspan font-size="8.5" dy="2.2">0</tspan><tspan dy="-2.2"> </tspan>= −1 ± 4</text>
<rect x="43.2" y="173.2" width="231.6" height="137.2" fill="none" stroke="#000" stroke-width="0.9"/>
<path stroke="#000" stroke-width="0.8" fill="none" d="M43.2 310.38h-2M43.2 303.52h-2M43.2 296.66h-3.5M43.2 289.80h-2M43.2 282.94h-2M43.2 276.08h-2M43.2 269.22h-3.5M43.2 262.36h-2M43.2 255.50h-2M43.2 248.64h-2M43.2 241.78h-3.5M43.2 234.92h-2M43.2 228.06h-2M43.2 221.20h-2M43.2 214.34h-3.5M43.2 207.48h-2M43.2 200.62h-2M43.2 193.76h-2M43.2 186.90h-3.5M43.2 180.04h-2M43.2 173.18h-2"/>
<path stroke="#000" stroke-width="0.8" fill="none" d="M43.20 310.4v3.5M62.50 310.4v2.0M81.80 310.4v3.5M101.10 310.4v2.0M120.40 310.4v3.5M139.70 310.4v2.0M159.00 310.4v3.5M178.30 310.4v2.0M197.60 310.4v3.5M216.90 310.4v2.0M236.20 310.4v3.5M255.50 310.4v2.0M274.80 310.4v3.5"/>
<text x="36.2" y="300.2" font-family="Liberation Serif, serif" font-size="10.5" text-anchor="end" fill="#333">−40</text>
<text x="36.2" y="272.7" font-family="Liberation Serif, serif" font-size="10.5" text-anchor="end" fill="#333">−20</text>
<text x="36.2" y="245.3" font-family="Liberation Serif, serif" font-size="10.5" text-anchor="end" fill="#333">0</text>
<text x="36.2" y="217.8" font-family="Liberation Serif, serif" font-size="10.5" text-anchor="end" fill="#333">20</text>
<text x="36.2" y="190.4" font-family="Liberation Serif, serif" font-size="10.5" text-anchor="end" fill="#333">40</text>
<text transform="translate(10.8 241.8) rotate(-90)" font-family="Liberation Serif, serif" font-size="11" text-anchor="middle" fill="#333" textLength="59" lengthAdjust="spacingAndGlyphs"><tspan font-style="italic">v</tspan><tspan font-style="italic" font-size="7.7" dy="1.9">rot,y′</tspan><tspan dy="-1.9"> [kms</tspan><tspan font-size="7.2" dy="-3.6">−1</tspan><tspan dy="3.6">]</tspan></text>
<text x="158.3" y="328.8" font-family="Liberation Serif, serif" font-size="11" text-anchor="middle" fill="#333" textLength="40.5" lengthAdjust="spacingAndGlyphs"><tspan font-style="italic">r</tspan><tspan font-style="italic" font-size="7.7" dy="1.9">z′x′</tspan><tspan dy="-1.9"> [kpc]</tspan></text>
<clipPath id="h1"><rect x="282.0" y="173.2" width="73.2" height="137.2"/></clipPath>
<g clip-path="url(#h1)">
<path d="M282.0 171.8 L284.30 171.81 L284.30 175.31 L286.50 175.31 L286.50 178.81 L289.10 178.81 L289.10 182.30 L291.20 182.30 L291.20 185.80 L293.40 185.80 L293.40 189.30 L296.20 189.30 L296.20 192.80 L299.40 192.80 L299.40 196.30 L302.60 196.30 L302.60 199.80 L306.30 199.80 L306.30 203.30 L309.80 203.30 L309.80 206.79 L314.10 206.79 L314.10 210.29 L318.40 210.29 L318.40 213.79 L324.20 213.79 L324.20 217.29 L328.50 217.29 L328.50 220.79 L332.80 220.79 L332.80 224.29 L337.80 224.29 L337.80 227.79 L342.60 227.79 L342.60 231.28 L345.80 231.28 L345.80 234.78 L348.60 234.78 L348.60 238.28 L349.00 238.28 L349.00 241.78 L333.90 241.78 L333.90 245.28 L324.20 245.28 L324.20 248.78 L315.60 248.78 L315.60 252.28 L308.00 252.28 L308.00 255.77 L301.60 255.77 L301.60 259.27 L296.20 259.27 L296.20 262.77 L292.90 262.77 L292.90 266.27 L289.70 266.27 L289.70 269.77 L286.50 269.77 L286.50 273.27 L284.30 273.27 L284.30 276.77 L283.20 276.77 L283.20 280.26 L282.60 280.26 L282.60 283.76 L282.20 283.76 L282.20 287.26 L282.20 287.26 L282.20 290.76 L282.20 290.76 L282.20 294.26 L282.20 294.26 L282.20 297.76 L282.20 297.76 L282.20 301.26 L282.20 301.26 L282.20 304.75 L282.20 304.75 L282.20 308.25 L282.20 308.25 L282.20 311.75 L282.0 311.8 Z" fill="#808080"/>
<path stroke="#b0b0b0" stroke-width="0.9" fill="none" d="M282.0 296.66H355.2M282.0 269.22H355.2M282.0 214.34H355.2M282.0 186.90H355.2"/>
<path d="M282.60 171.81 L282.60 175.31 L282.60 175.31 L282.60 178.81 L282.80 178.81 L282.80 182.30 L283.00 182.30 L283.00 185.80 L283.20 185.80 L283.20 189.30 L283.90 189.30 L283.90 192.80 L285.40 192.80 L285.40 196.30 L288.60 196.30 L288.60 199.80 L292.90 199.80 L292.90 203.30 L296.20 203.30 L296.20 206.79 L301.60 206.79 L301.60 210.29 L308.00 210.29 L308.00 213.79 L319.90 213.79 L319.90 217.29 L325.30 217.29 L325.30 220.79 L328.50 220.79 L328.50 224.29 L338.20 224.29 L338.20 227.79 L344.70 227.79 L344.70 231.28 L346.90 231.28 L346.90 234.78 L351.20 234.78 L351.20 238.28 L353.30 238.28 L353.30 241.78 L339.30 241.78 L339.30 245.28 L331.80 245.28 L331.80 248.78 L323.10 248.78 L323.10 252.28 L315.60 252.28 L315.60 255.77 L310.20 255.77 L310.20 259.27 L303.70 259.27 L303.70 262.77 L301.60 262.77 L301.60 266.27 L299.40 266.27 L299.40 269.77 L296.20 269.77 L296.20 273.27 L291.90 273.27 L291.90 276.77 L289.70 276.77 L289.70 280.26 L286.50 280.26 L286.50 283.76 L284.30 283.76 L284.30 287.26 L283.20 287.26 L283.20 290.76 L283.20 290.76 L283.20 294.26 L282.60 294.26 L282.60 297.76 L282.60 297.76 L282.60 301.26 L282.20 301.26 L282.20 304.75 L282.20 304.75 L282.20 308.25 L282.00 308.25 L282.00 311.75" fill="none" stroke="#ff0000" stroke-width="1.1"/>
<path stroke="#000" stroke-width="0.9" d="M282.0 241.78H355.2"/>
<path stroke="#000" stroke-width="1.4" stroke-dasharray="4 2.6" d="M282.0 228.27H355.2"/>
<path stroke="#ff0000" stroke-width="1.4" stroke-dasharray="4 2.6" d="M282.0 236.98H355.2"/>
</g>
<rect x="282.0" y="173.2" width="73.2" height="137.2" fill="none" stroke="#000" stroke-width="0.9"/>
<path stroke="#000" stroke-width="0.8" fill="none" d="M282.0 310.38h-2M282.0 303.52h-2M282.0 296.66h-3.5M282.0 289.80h-2M282.0 282.94h-2M282.0 276.08h-2M282.0 269.22h-3.5M282.0 262.36h-2M282.0 255.50h-2M282.0 248.64h-2M282.0 241.78h-3.5M282.0 234.92h-2M282.0 228.06h-2M282.0 221.20h-2M282.0 214.34h-3.5M282.0 207.48h-2M282.0 200.62h-2M282.0 193.76h-2M282.0 186.90h-3.5M282.0 180.04h-2M282.0 173.18h-2"/>
<rect x="334.3" y="174.0" width="9.9" height="40.3" fill="#fff"/>
<rect x="344.2" y="174.0" width="10.4" height="51.5" fill="#fff"/>
<text transform="translate(345.9 176.5) rotate(90)" font-family="Liberation Serif, serif" font-size="10.4" fill="#222">9.85 ± 0.13</text>
<text transform="translate(336.3 175.8) rotate(90)" font-family="Liberation Serif, serif" font-size="10.4" fill="#ff2020">3.5 ± 0.4</text>
<clipPath id="c2"><rect x="43.2" y="344.7" width="231.6" height="137.2"/></clipPath>
<g clip-path="url(#c2)">
<rect x="43.2" y="344.7" width="231.6" height="137.2" fill="#440154"/>
<path fill-rule="evenodd" fill="#460a5d" d="M154.7 484.2 73.5 484.2 70.2 481.2 67.1 477.2 64.7 472.2 63.4 467.2 62.6 461.2 61.8 449.2 60.7 446.2 58.7 444.2 56.9 443.2 50.7 440.5 43.7 436.3 41.7 436.0 41.7 383.0 43.7 382.6 50.7 377.5 58.4 373.2 60.4 371.2 61.8 367.2 63.4 351.2 64.4 347.2 65.9 343.2 166.6 343.2 175.4 349.2 182.3 353.2 189.7 356.2 194.7 357.3 207.7 358.2 229.7 358.9 276.7 358.6 276.7 459.4 258.2 460.2 227.6 462.2 193.7 465.5 186.7 467.4 177.8 471.2 154.7 484.2Z"/>
<path fill-rule="evenodd" fill="#471365" d="M121.7 484.2 111.7 484.0 100.7 482.8 95.7 481.9 91.7 479.7 88.4 476.2 86.7 473.2 85.6 470.2 84.2 463.2 83.1 449.2 82.6 447.2 81.3 445.2 78.3 443.2 75.4 442.2 58.7 438.7 52.7 436.8 50.4 435.2 47.6 432.2 43.7 425.7 42.7 424.8 41.7 424.8 41.7 395.9 42.7 395.9 43.7 394.8 47.6 387.2 50.7 383.3 52.7 381.7 57.7 379.6 76.7 374.2 78.8 373.2 81.3 371.2 82.5 369.2 83.0 367.2 84.3 352.2 85.4 347.2 86.8 343.2 151.9 343.2 168.7 353.8 176.5 358.2 183.7 361.0 191.7 362.5 219.7 363.2 276.7 363.3 276.7 452.6 229.7 455.0 197.7 457.4 191.7 458.3 183.7 460.5 175.7 463.7 149.7 476.2 140.2 480.2 130.7 483.0 121.7 484.2Z"/>
<path fill-rule="evenodd" fill="#481c6e" d="M136.7 454.2 125.7 454.9 118.7 454.7 115.7 453.7 106.2 449.2 95.7 445.8 86.6 442.2 79.0 440.2 60.7 436.7 55.7 435.2 52.7 433.7 50.3 431.2 48.0 427.2 45.9 422.2 42.7 412.3 41.7 412.3 41.7 410.1 42.7 410.1 47.1 395.2 49.3 390.2 51.7 386.3 54.7 383.9 59.7 381.8 78.0 377.2 87.1 374.2 96.7 369.6 105.9 366.2 115.7 361.1 119.7 360.0 127.7 359.9 136.7 360.5 165.3 364.2 183.7 365.5 276.7 366.6 276.7 442.7 239.7 443.3 194.8 445.2 186.7 446.2 158.7 451.5 136.7 454.2Z"/>
<path fill-rule="evenodd" fill="#482475" d="M146.7 444.2 117.7 444.1 100.7 442.6 64.7 435.8 58.7 434.1 54.7 432.3 52.1 430.2 49.8 426.2 47.2 419.2 45.6 412.2 45.9 408.2 47.2 402.2 49.4 395.2 51.6 390.2 53.7 387.6 56.7 385.5 60.7 383.7 65.7 382.1 95.7 374.6 116.7 371.5 140.7 370.1 162.7 369.6 190.7 368.3 223.7 368.4 276.7 369.9 276.7 435.2 243.7 436.2 197.7 438.5 190.7 439.2 163.7 443.3 146.7 444.2Z"/>
<path fill-rule="evenodd" fill="#472d7b" d="M145.7 442.2 117.7 442.1 99.7 440.7 67.7 434.9 61.7 433.3 56.8 431.2 53.7 429.0 51.6 426.2 49.2 420.2 47.3 412.2 47.4 409.2 48.2 405.2 50.3 397.2 51.9 393.2 53.7 390.6 56.7 388.1 60.7 385.9 66.7 383.7 95.7 376.5 116.7 373.7 135.7 372.5 163.7 372.0 183.7 370.7 194.7 370.4 227.7 371.0 276.7 373.8 276.7 429.9 196.7 435.9 164.7 441.0 145.7 442.2Z"/>
<path fill-rule="evenodd" fill="#463480" d="M156.7 440.2 143.7 440.9 128.7 440.9 115.7 440.7 104.7 439.9 94.7 438.7 72.7 434.5 65.7 432.9 60.9 431.2 56.7 429.0 53.7 426.4 51.7 423.2 50.0 418.2 48.9 413.2 48.7 410.2 50.0 403.2 51.8 397.2 53.7 393.6 57.2 390.2 61.7 387.4 67.4 385.2 95.7 378.1 116.7 375.3 140.7 374.0 163.7 373.8 185.7 372.6 195.7 372.5 229.7 373.8 250.7 375.6 276.7 378.5 276.7 424.8 226.7 430.8 195.7 433.9 168.7 438.8 156.7 440.2Z"/>
<path fill-rule="evenodd" fill="#443b84" d="M152.7 439.2 140.7 439.7 124.7 439.8 114.7 439.5 103.7 438.6 94.7 437.5 77.7 434.3 68.7 432.2 62.7 430.2 58.7 428.2 55.7 426.0 53.3 423.2 51.4 419.2 50.1 414.2 49.8 410.2 50.8 404.2 52.4 399.2 54.7 395.2 58.7 391.4 63.7 388.4 69.7 386.1 81.7 382.7 95.7 379.4 107.7 377.5 120.7 376.3 140.7 375.3 164.7 375.4 188.7 374.5 214.7 375.5 227.7 376.4 244.7 378.6 257.7 380.7 274.7 384.0 276.7 384.0 276.7 419.7 274.7 419.8 227.7 427.9 193.7 432.2 165.7 437.9 152.7 439.2Z"/>
<path fill-rule="evenodd" fill="#414487" d="M150.7 438.2 125.7 438.7 114.7 438.5 104.7 437.7 95.7 436.6 84.7 434.5 72.7 431.9 65.7 429.8 61.7 428.1 57.7 425.5 54.7 422.5 52.7 419.3 51.3 415.2 50.7 411.2 51.2 407.2 52.7 401.8 55.3 397.2 59.2 393.2 64.7 389.8 71.7 386.9 86.7 382.7 98.7 380.0 113.7 378.0 128.7 377.0 143.7 376.5 164.7 376.9 188.7 376.5 217.7 378.3 229.7 379.7 245.7 382.6 257.7 385.3 274.7 389.9 276.7 389.9 276.7 414.6 274.7 414.6 251.5 420.2 227.7 425.1 194.7 430.1 164.7 436.7 150.7 438.2Z"/>
<path fill-rule="evenodd" fill="#3e4a89" d="M149.7 437.2 126.7 437.8 115.7 437.6 105.7 436.8 97.7 435.9 89.7 434.5 69.7 429.7 64.7 427.9 60.7 425.7 57.4 423.2 54.7 420.1 52.7 416.3 51.7 412.2 51.8 409.2 52.7 405.2 55.7 399.3 59.7 395.0 65.4 391.2 72.7 388.1 86.7 383.9 99.7 381.0 114.7 379.0 130.7 378.0 145.7 377.7 164.7 378.3 188.7 378.4 218.7 381.2 230.7 383.2 246.7 387.0 258.7 390.5 274.7 395.9 276.7 396.0 276.7 409.3 274.7 409.3 251.7 416.3 226.7 422.6 194.7 428.2 165.7 435.3 158.7 436.4 149.7 437.2Z"/>
<path fill-rule="evenodd" fill="#3b528b" d="M149.7 436.2 128.7 436.8 116.7 436.7 107.7 436.1 94.7 434.4 73.7 429.6 68.7 428.0 63.7 425.8 60.7 423.9 57.5 421.2 54.7 417.5 53.2 414.2 52.6 411.2 53.0 408.2 55.7 402.0 57.8 399.2 60.7 396.2 66.7 392.2 74.7 388.9 88.7 384.6 101.7 381.7 117.7 379.8 137.7 378.8 151.7 379.0 188.7 380.4 221.7 384.5 234.7 387.6 254.7 394.0 269.1 400.2 271.8 402.2 272.1 403.2 271.4 404.2 269.9 405.2 259.7 409.5 247.7 413.6 229.2 419.2 219.7 421.5 194.7 426.3 166.7 433.9 158.7 435.3 149.7 436.2Z"/>
<path fill-rule="evenodd" fill="#38598c" d="M149.7 435.2 130.7 435.9 109.7 435.3 95.7 433.6 77.7 429.5 71.7 427.7 66.7 425.7 62.7 423.5 59.7 421.3 56.7 418.1 54.7 414.8 53.8 412.2 53.9 409.2 55.0 406.2 56.7 403.1 58.9 400.2 61.7 397.4 67.7 393.4 75.7 389.9 88.7 385.8 100.7 382.9 115.7 381.0 133.7 380.0 151.7 380.1 186.7 382.2 194.7 383.1 217.7 386.7 230.7 389.9 247.7 395.9 256.9 400.2 259.5 402.2 259.8 403.2 259.2 404.2 258.0 405.2 251.9 408.2 236.7 413.8 226.3 417.2 194.7 424.5 166.7 432.6 158.7 434.2 149.7 435.2Z"/>
<path fill-rule="evenodd" fill="#355f8d" d="M149.7 434.2 131.7 435.0 111.7 434.6 97.7 433.0 80.7 429.2 69.7 425.6 65.7 423.7 61.7 421.1 58.6 418.2 55.8 414.2 55.0 411.2 55.2 409.2 56.5 406.2 58.4 403.2 63.1 398.2 69.3 394.2 77.7 390.5 89.7 386.7 100.7 384.0 114.7 382.1 131.7 381.1 141.7 380.9 151.7 381.3 184.7 383.9 193.7 385.1 212.7 388.6 223.7 391.1 233.7 394.5 246.5 400.2 249.2 402.2 249.7 403.2 249.3 404.2 248.1 405.2 244.4 407.2 232.7 412.1 223.7 415.3 195.7 422.3 167.7 431.1 159.7 432.9 149.7 434.2Z"/>
<path fill-rule="evenodd" fill="#31668e" d="M149.7 433.2 132.7 434.1 112.7 433.8 98.7 432.3 83.7 428.9 71.7 425.1 67.5 423.2 63.7 420.9 59.7 417.4 57.3 414.2 56.3 411.2 56.6 409.2 57.7 406.8 59.7 403.8 64.7 398.8 70.7 395.0 79.7 391.1 92.7 387.0 100.7 385.0 114.7 383.1 130.7 382.1 141.7 382.0 152.7 382.5 181.7 385.5 192.7 387.1 215.7 392.0 223.7 394.3 235.5 399.2 238.9 401.2 240.7 403.2 240.5 404.2 239.5 405.2 236.3 407.2 229.9 410.2 221.8 413.2 195.7 420.4 167.7 429.9 159.7 431.8 149.7 433.2Z"/>
<path fill-rule="evenodd" fill="#2f6c8e" d="M134.7 433.2 115.7 433.0 101.7 431.8 93.7 430.3 78.7 426.3 69.7 422.9 65.7 420.6 62.7 418.4 60.4 416.2 58.3 413.2 57.7 411.2 58.1 409.2 61.2 404.2 66.6 399.2 72.7 395.5 81.7 391.7 94.7 387.5 101.7 385.9 114.7 384.1 129.7 383.2 141.7 383.0 152.7 383.7 189.7 388.6 220.7 396.4 229.5 400.2 232.5 402.2 233.2 403.2 233.1 404.2 231.0 406.2 222.6 410.2 195.7 418.5 168.7 428.3 160.7 430.5 153.7 431.8 143.7 432.8 134.7 433.2Z"/>
<path fill-rule="evenodd" fill="#2c728e" d="M137.7 432.2 119.7 432.3 107.7 431.6 97.7 430.2 84.7 427.0 73.7 423.3 66.7 419.7 63.3 417.2 60.7 414.4 59.5 412.2 59.3 410.2 60.1 408.2 62.1 405.2 67.5 400.2 73.7 396.4 82.7 392.6 94.7 388.6 101.7 386.9 113.7 385.2 128.7 384.2 141.7 384.1 152.7 384.8 186.7 390.0 194.7 391.9 216.7 398.2 223.7 401.1 226.2 403.2 226.4 404.2 225.7 405.2 220.4 408.2 195.7 416.6 168.7 427.1 161.5 429.2 154.7 430.6 145.7 431.7 137.7 432.2Z"/>
<path fill-rule="evenodd" fill="#2a788e" d="M140.7 431.2 127.7 431.5 112.7 431.1 100.7 429.9 93.0 428.2 79.2 424.2 69.7 420.1 65.7 417.5 62.7 414.7 61.0 412.2 60.8 410.2 61.7 408.2 63.7 405.5 68.7 401.0 75.7 396.9 84.7 393.1 95.7 389.4 101.7 387.9 113.7 386.2 128.7 385.2 141.7 385.1 152.7 386.0 184.7 391.5 193.7 393.8 213.3 400.2 217.8 402.2 219.1 403.2 219.5 404.2 218.9 405.2 215.6 407.2 195.7 414.6 168.7 425.8 155.7 429.4 140.7 431.2Z"/>
<path fill-rule="evenodd" fill="#277e8e" d="M141.7 430.2 129.7 430.6 114.7 430.4 102.7 429.2 95.7 427.9 80.7 423.6 71.7 419.8 67.7 417.4 64.7 414.9 62.7 412.2 62.4 410.2 63.3 408.2 64.9 406.2 70.8 401.2 77.9 397.2 87.7 393.2 96.7 390.2 103.7 388.6 114.7 387.1 128.7 386.2 141.7 386.2 151.7 387.0 177.7 391.8 187.7 394.2 195.7 396.7 208.7 401.7 211.3 403.2 212.0 404.2 211.7 405.2 208.6 407.2 168.7 424.6 161.7 426.9 155.7 428.3 141.7 430.2Z"/>
<path fill-rule="evenodd" fill="#25848e" d="M142.7 429.2 129.7 429.7 115.7 429.5 104.7 428.6 96.7 427.2 81.7 422.8 72.7 419.0 68.7 416.5 65.9 414.2 64.4 412.2 64.1 410.2 65.1 408.2 66.8 406.2 72.7 401.5 79.7 397.7 89.7 393.7 97.7 390.9 104.7 389.5 114.7 388.1 127.7 387.3 140.7 387.2 148.7 387.8 155.7 388.8 172.7 392.4 185.7 395.6 192.7 397.9 202.5 402.2 205.0 404.2 205.0 405.2 204.1 406.2 200.7 408.2 169.7 422.9 156.7 427.1 142.7 429.2Z"/>
<path fill-rule="evenodd" fill="#238a8d" d="M143.7 428.2 130.7 428.9 116.7 428.7 106.7 427.9 97.7 426.5 83.2 422.2 73.7 418.2 67.7 414.1 66.1 412.2 65.8 410.2 66.9 408.2 68.7 406.2 74.7 401.7 82.7 397.6 94.2 393.2 100.7 391.2 108.7 389.8 126.7 388.3 142.7 388.3 156.7 390.2 174.7 394.4 186.7 397.9 194.8 401.2 198.2 403.2 199.2 404.2 199.4 405.2 198.8 406.2 196.0 408.2 179.1 417.2 170.7 421.2 157.7 425.8 151.7 427.1 143.7 428.2Z"/>
<path fill-rule="evenodd" fill="#21918c" d="M143.7 427.3 130.7 428.0 116.7 427.8 107.7 427.2 98.7 425.8 84.7 421.6 75.7 417.9 71.7 415.6 68.7 413.2 67.6 411.2 67.6 410.2 68.7 408.2 70.7 406.2 76.4 402.2 83.7 398.5 95.7 393.7 100.7 392.3 109.7 390.7 125.7 389.3 141.7 389.3 155.7 391.2 172.7 395.5 182.7 398.6 189.7 401.2 193.2 403.2 194.3 404.2 194.7 405.2 194.4 406.2 192.1 408.2 179.9 415.2 170.7 419.9 157.7 424.7 151.7 426.1 143.7 427.3Z"/>
<path fill-rule="evenodd" fill="#1f968b" d="M144.7 426.2 132.7 427.0 118.7 427.0 109.7 426.5 99.7 425.1 85.7 420.9 76.8 417.2 73.3 415.2 70.7 413.2 69.4 411.2 69.5 410.2 71.7 407.1 77.7 402.8 84.9 399.2 96.7 394.5 101.7 393.1 110.7 391.5 126.7 390.3 142.7 390.4 155.7 392.4 172.7 397.1 180.7 399.8 187.7 402.7 189.8 404.2 190.5 405.2 190.4 406.2 189.7 407.2 187.2 409.2 177.1 415.2 169.7 419.0 157.7 423.6 152.7 424.9 144.7 426.2Z"/>
<path fill-rule="evenodd" fill="#1e9c89" d="M131.7 426.2 112.7 425.9 103.7 424.9 97.7 423.7 85.7 419.8 77.7 416.4 72.8 413.2 71.3 411.2 71.4 410.2 73.6 407.2 79.5 403.2 86.7 399.6 97.7 395.2 101.7 394.1 110.7 392.5 126.7 391.3 141.7 391.4 154.7 393.3 176.9 400.2 183.8 403.2 186.5 405.2 186.7 406.2 186.3 407.2 181.1 411.2 171.7 416.7 161.7 421.1 154.7 423.4 146.7 425.0 140.7 425.7 131.7 426.2Z"/>
<path fill-rule="evenodd" fill="#1fa287" d="M134.7 425.2 113.7 425.1 105.7 424.3 98.7 423.1 87.0 419.2 79.7 416.1 74.9 413.2 73.3 411.2 73.3 410.2 73.8 409.2 75.7 407.2 80.7 403.9 87.7 400.4 97.9 396.2 102.7 394.9 111.7 393.4 127.7 392.2 141.7 392.4 154.7 394.5 175.7 401.5 181.2 404.2 183.1 406.2 183.0 407.2 182.2 408.2 177.0 412.2 169.7 416.4 161.2 420.2 154.7 422.4 148.7 423.7 141.7 424.7 134.7 425.2Z"/>
<path fill-rule="evenodd" fill="#22a884" d="M136.7 424.2 127.7 424.5 114.7 424.2 99.7 422.4 88.7 418.7 80.7 415.4 76.0 412.2 75.4 411.2 75.4 410.2 75.8 409.2 77.9 407.2 82.6 404.2 88.7 401.2 98.7 397.0 111.7 394.4 126.7 393.3 141.7 393.5 153.7 395.5 173.1 402.2 177.3 404.2 179.7 406.2 179.9 407.2 179.4 408.2 175.9 411.2 169.4 415.2 161.7 418.8 156.7 420.7 151.3 422.2 143.7 423.6 136.7 424.2Z"/>
<path fill-rule="evenodd" fill="#28ae80" d="M137.7 423.2 128.7 423.6 115.7 423.4 100.7 421.7 94.7 419.9 82.9 415.2 78.2 412.2 77.5 411.2 77.4 410.2 78.9 408.2 83.2 405.2 93.7 400.1 99.7 397.7 112.7 395.3 127.7 394.2 141.7 394.5 153.7 396.6 171.4 403.2 175.2 405.2 176.4 406.2 176.8 407.2 175.9 409.2 172.0 412.2 166.8 415.2 159.7 418.5 149.7 421.5 143.7 422.7 137.7 423.2Z"/>
<path fill-rule="evenodd" fill="#2fb47c" d="M139.7 422.2 129.7 422.7 116.7 422.6 108.7 422.0 100.7 420.7 94.7 418.9 83.7 414.3 80.4 412.2 79.7 411.2 79.6 410.2 81.1 408.2 85.7 405.2 94.7 400.7 99.7 398.8 112.7 396.3 127.7 395.2 141.7 395.6 152.7 397.6 157.8 399.2 168.7 403.7 171.7 405.2 173.9 407.2 173.9 408.2 173.3 409.2 171.1 411.2 166.2 414.2 160.2 417.2 151.7 420.1 139.7 422.2Z"/>
<path fill-rule="evenodd" fill="#38b977" d="M140.7 421.2 129.7 421.8 117.7 421.7 109.8 421.2 101.7 420.0 95.7 418.3 86.0 414.2 82.8 412.2 81.9 411.2 81.8 410.2 83.4 408.2 86.4 406.2 94.7 401.9 99.7 399.8 112.7 397.3 127.7 396.2 141.7 396.6 151.7 398.5 156.7 400.0 161.8 402.2 168.2 405.2 170.9 407.2 171.2 408.2 169.9 410.2 165.5 413.2 159.8 416.2 151.7 419.1 140.7 421.2Z"/>
<path fill-rule="evenodd" fill="#44bf70" d="M140.7 420.3 129.7 420.9 117.7 420.8 109.7 420.3 101.7 419.1 96.7 417.7 88.6 414.2 85.2 412.2 84.3 411.2 84.1 410.2 85.7 408.2 88.8 406.2 95.7 402.5 100.7 400.6 113.7 398.1 128.7 397.2 141.7 397.7 152.7 399.9 157.7 401.7 163.0 404.2 166.6 406.2 167.8 407.2 168.4 408.2 168.2 409.2 166.2 411.2 161.7 414.0 157.7 415.9 150.7 418.3 140.7 420.3Z"/>
<path fill-rule="evenodd" fill="#50c46a" d="M141.7 419.2 131.7 420.0 122.7 420.0 113.7 419.8 104.7 418.7 98.7 417.4 93.2 415.2 87.6 412.2 86.7 411.2 86.5 410.2 88.1 408.2 91.2 406.2 96.7 403.2 100.7 401.7 112.7 399.3 127.7 398.2 141.7 398.7 151.7 400.8 160.1 404.2 163.6 406.2 165.6 408.2 165.6 409.2 163.9 411.2 157.7 414.8 151.7 417.0 141.7 419.2Z"/>
<path fill-rule="evenodd" fill="#5ec962" d="M127.7 419.2 112.7 418.8 100.7 417.0 96.7 415.7 91.6 413.2 89.1 411.2 88.8 410.2 90.4 408.2 93.4 406.2 97.7 403.9 101.7 402.5 113.7 400.2 127.7 399.3 140.7 399.7 148.5 401.2 153.7 402.7 157.3 404.2 160.8 406.2 163.0 408.2 163.2 409.2 162.6 410.2 160.2 412.2 156.4 414.2 151.7 416.0 141.7 418.3 127.7 419.2Z"/>
<path fill-rule="evenodd" fill="#6ccd5a" d="M130.7 418.2 113.7 417.9 101.7 416.2 97.7 415.0 93.9 413.2 91.4 411.2 91.2 410.2 92.6 408.2 94.7 406.7 97.7 405.1 101.7 403.5 113.7 401.2 127.7 400.3 139.7 400.7 146.7 401.9 155.7 404.8 158.2 406.2 160.5 408.2 160.8 409.2 159.3 411.2 156.0 413.2 151.7 414.9 141.7 417.3 130.7 418.2Z"/>
<path fill-rule="evenodd" fill="#7ad151" d="M132.7 417.2 115.7 417.1 105.7 416.0 100.7 415.0 97.7 413.9 94.6 412.2 93.6 411.2 93.3 410.2 94.8 408.2 96.7 406.8 99.7 405.3 103.7 404.1 114.7 402.1 128.7 401.3 140.7 401.9 146.7 403.0 151.7 404.5 155.5 406.2 158.0 408.2 158.4 409.2 158.0 410.2 155.7 412.0 149.7 414.4 141.7 416.4 132.7 417.2Z"/>
<path fill-rule="evenodd" fill="#8bd646" d="M133.7 416.2 117.7 416.3 107.7 415.4 101.7 414.2 98.7 413.2 95.8 411.2 95.5 410.2 96.7 408.4 98.7 407.1 105.7 404.8 114.7 403.2 128.7 402.3 139.7 402.9 145.7 403.9 152.7 406.3 155.5 408.2 155.9 409.2 155.6 410.2 154.4 411.2 147.7 413.9 141.7 415.4 133.7 416.2Z"/>
<path fill-rule="evenodd" fill="#9bd93c" d="M133.7 415.2 120.7 415.4 109.7 414.7 100.7 412.7 98.1 411.2 97.7 410.2 98.2 409.2 100.7 407.5 108.7 405.2 115.7 404.1 128.7 403.4 137.7 403.8 143.7 404.6 151.1 407.2 152.6 408.2 153.2 409.2 152.8 410.2 151.5 411.2 146.5 413.2 141.7 414.4 133.7 415.2Z"/>
<path fill-rule="evenodd" fill="#addc30" d="M133.7 414.2 123.7 414.5 111.7 413.9 103.3 412.2 101.0 411.2 100.4 410.2 101.0 409.2 102.8 408.2 109.7 406.2 115.7 405.2 127.7 404.5 135.7 404.8 142.7 405.6 147.4 407.2 149.2 408.2 150.0 409.2 149.6 410.2 148.2 411.2 144.7 412.5 140.7 413.5 133.7 414.2Z"/>
<path fill-rule="evenodd" fill="#bddf26" d="M133.7 413.2 125.7 413.5 113.7 413.0 107.7 411.9 105.4 411.2 104.4 410.2 105.1 409.2 107.3 408.2 111.7 407.0 118.2 406.2 127.7 405.7 133.7 405.8 140.7 406.6 144.7 407.8 146.5 409.2 146.2 410.2 142.7 411.8 133.7 413.2Z"/>
<path fill-rule="evenodd" fill="#cde11d" d="M131.7 412.2 124.7 412.3 115.7 411.9 111.2 411.2 109.5 410.2 110.3 409.2 113.7 408.1 126.7 406.9 135.7 407.4 140.5 408.2 142.3 409.2 142.0 410.2 139.7 411.0 131.7 412.2Z"/>
<path fill-rule="evenodd" fill="#dfe318" d="M132.7 410.2 127.7 410.7 120.5 410.2 121.7 409.2 128.7 408.7 133.0 409.2 132.7 410.2Z"/>
<path fill="none" stroke="#111" stroke-opacity="0.8" stroke-width="0.7" d="M85.7 343.2 86.7 344.0 86.7 344.7 85.7 344.4 85.7 343.2M41.7 400.0 42.7 400.1 43.7 399.6 44.0 399.2 43.7 398.2 42.8 397.2 42.7 396.2 44.2 394.2 48.8 390.2 49.4 386.2 52.9 382.2 56.7 380.5 60.7 380.2 66.7 377.3 71.7 377.2 74.7 376.5 77.7 374.3 78.7 374.3 81.7 375.3 82.7 375.3 83.7 374.7 84.4 373.2 84.4 369.2 84.7 368.2 86.0 367.2 86.2 366.2 86.0 365.2 84.6 363.2 84.9 362.2 86.7 361.1 87.7 361.5 88.7 361.3 89.7 360.6 90.6 359.2 90.5 357.2 89.7 355.7 88.7 355.3 86.5 355.2 86.7 354.2 88.7 351.3 90.0 348.2 90.9 343.2M105.0 343.2 105.7 344.4 106.7 344.7 108.2 343.2M109.3 343.2 110.7 344.2 111.3 343.2M119.6 343.2 119.8 343.2M139.2 343.2 139.8 344.2 140.7 344.9 142.7 345.6 146.7 344.8 147.6 344.2 148.1 343.2M150.6 343.2 150.4 345.2 150.7 346.2 152.1 347.2 152.8 348.2 152.2 351.2 152.7 352.8 156.7 353.2 157.5 352.2 157.6 350.2 158.2 349.2 158.7 348.9 159.7 349.0 162.1 350.2 164.7 352.8 168.0 355.2 170.7 356.5 171.2 357.2 171.7 360.2 172.7 361.0 174.7 361.0 176.7 359.7 177.7 359.5 181.5 362.2 188.7 364.2 191.7 363.7 194.7 364.8 195.7 364.8 201.7 363.4 203.7 364.1 206.7 363.7 209.7 364.0 211.7 363.8 214.7 364.5 219.7 364.2 222.7 364.4 224.0 364.2 225.7 363.4 227.7 363.2 232.7 363.8 236.7 363.4 241.7 364.4 246.7 363.2 249.7 363.7 252.7 365.0 254.7 364.4 257.7 362.9 265.7 363.5 270.7 363.2 272.0 365.2 272.7 365.4 276.7 365.1M162.9 359.2 164.0 358.2 163.9 357.2 163.4 356.2 162.7 355.7 161.7 355.7 160.0 356.2 159.5 357.2 159.7 358.2 160.7 359.0 162.9 359.2M82.7 364.2 81.7 365.0 81.4 364.2 81.4 363.2 81.7 362.7 82.6 363.2 82.7 364.2M178.2 364.2 178.3 363.2 177.7 362.7 176.7 362.5 175.9 363.2 176.3 364.2 176.7 364.5 177.7 364.6 178.2 364.2M90.1 370.2 90.0 369.2 88.7 368.5 87.5 369.2 88.1 370.2 88.7 370.5 89.7 370.6 90.1 370.2M276.7 446.2 273.7 447.7 268.7 447.7 268.2 447.2 268.8 446.2 268.7 444.7 267.7 443.9 266.7 444.1 265.4 445.2 265.4 446.2 266.7 447.5 267.7 447.6 268.3 448.2 266.7 449.5 265.4 452.2 264.7 452.7 263.7 452.8 261.7 451.8 259.7 452.5 258.7 452.3 256.7 451.5 255.7 451.9 254.8 453.2 253.7 453.7 251.7 453.2 249.4 451.2 246.7 450.3 245.7 450.6 244.3 452.2 243.7 452.4 241.5 452.2 238.7 451.0 237.7 451.1 231.7 451.9 230.7 452.2 228.7 453.6 226.7 453.1 223.7 454.5 221.7 454.8 220.7 454.7 217.7 453.3 215.7 453.7 213.7 454.9 211.7 454.4 207.7 455.2 205.8 454.2 203.7 451.8 202.7 451.5 201.6 452.2 200.7 454.7 199.7 455.8 198.2 455.2 196.8 453.2 195.7 453.2 194.0 454.2 192.4 456.2 190.7 457.4 187.7 456.9 184.7 458.1 183.7 458.2 179.7 458.0 175.7 458.3 174.8 459.2 174.6 461.2 173.7 461.9 169.7 463.8 165.7 465.1 164.7 464.6 163.7 462.8 162.7 462.5 161.7 462.8 156.3 466.2 156.0 467.2 156.1 469.2 155.6 470.2 152.7 472.4 151.7 472.6 149.7 471.6 145.7 470.7 144.7 471.0 145.2 473.2 145.1 474.2 142.7 475.5 139.7 476.7 139.4 477.2 139.3 479.2 138.8 480.2 137.7 480.9 136.7 481.1 134.7 480.1 132.7 479.7 130.7 480.6 128.7 482.0 127.7 482.2 125.7 482.0 124.7 481.7 123.7 481.0 120.7 477.4 119.7 477.7 119.2 478.2 119.3 480.2 118.7 480.9 117.7 481.0 116.6 480.2 116.5 479.2 117.7 477.2 117.5 476.2 116.7 475.0 115.7 474.5 112.1 475.2 112.4 478.2 111.5 479.2 108.7 479.7 106.7 478.9 103.7 478.8 103.0 478.2 106.4 474.2 108.7 472.4 110.5 470.2 110.7 469.1 109.7 469.1 107.7 470.0 104.7 471.8 102.7 472.2 98.7 475.4 95.7 475.7 94.7 476.2 92.7 478.5 91.7 478.7 90.4 478.2 89.6 477.2 89.5 476.2 90.7 472.8 91.7 472.1 92.7 472.0 93.5 471.2 93.1 470.2 91.7 468.0 84.8 463.2 84.1 462.2 84.2 461.2 85.7 458.3 87.7 459.0 88.7 458.7 89.6 457.2 89.8 456.2 89.7 455.2 88.8 454.2 87.7 453.8 85.7 453.8 83.7 454.7 83.4 454.2 83.7 452.0 84.7 450.9 86.4 450.2 87.3 449.2 87.5 448.2 86.3 446.2 84.7 445.3 81.5 446.2 81.0 445.2 81.0 443.2 80.4 442.2 78.7 440.9 76.7 440.6 73.7 441.4 71.7 441.2 65.7 439.6 61.7 438.1 56.7 437.8 54.7 437.4 52.7 435.6 49.3 434.2 48.7 431.4 48.0 430.2 45.7 428.2 43.7 423.8 42.7 422.6 41.7 422.1M90.3 448.2 91.0 447.2 89.7 446.9 89.2 447.2 89.0 448.2 90.3 448.2M168.5 456.2 169.8 455.2 169.7 453.5 167.9 451.2 166.7 450.8 165.7 454.2 165.7 455.2 166.7 456.2 167.7 456.4 168.5 456.2M126.3 466.2 126.7 465.9 126.9 465.2 126.7 464.1 125.7 464.2 125.4 465.2 125.7 466.4 126.3 466.2M137.1 471.2 136.7 470.8 135.9 471.2 136.7 471.7 137.1 471.2M276.7 430.6 275.8 430.2 275.6 429.2 275.9 428.2 275.5 427.2 273.7 426.9 270.7 427.5 266.7 426.6 265.7 426.6 264.8 427.2 263.7 428.7 262.7 428.8 260.7 427.8 259.7 428.1 256.7 431.1 255.7 431.2 253.7 429.5 252.7 429.2 251.7 429.4 250.6 430.2 249.7 432.3 247.8 431.2 246.7 429.7 245.7 429.1 244.7 429.0 242.7 430.9 238.7 433.2 237.7 433.4 233.7 432.3 231.7 432.2 229.7 431.6 227.7 431.6 220.7 433.4 217.7 433.6 214.7 433.4 211.7 434.0 207.7 434.4 201.7 436.1 200.7 436.1 198.7 435.3 197.7 435.3 190.7 435.9 187.7 436.6 181.7 436.5 178.7 437.5 173.7 438.5 170.7 440.3 161.7 441.4 160.7 441.0 159.7 440.0 157.7 439.6 153.7 441.1 148.7 440.5 140.7 441.7 138.7 442.4 134.7 443.0 130.7 441.9 127.7 442.5 117.7 442.2 114.7 441.4 111.7 441.6 108.2 440.2 101.7 440.8 95.7 440.9 90.7 439.4 88.7 438.3 84.7 436.9 83.7 436.7 80.7 437.2 77.7 436.0 73.3 435.2 70.7 433.9 63.7 433.6 60.7 431.9 57.7 430.7 54.7 427.5 50.7 422.2 48.5 417.2 47.6 412.2 47.7 408.2 49.3 405.2 50.3 399.2 51.9 394.2 53.3 392.2 55.8 391.2 58.7 388.2 61.7 387.7 65.7 384.8 66.7 384.4 69.7 384.2 72.7 382.0 73.7 381.8 76.7 382.0 78.7 381.1 86.7 379.4 90.7 378.1 92.7 378.6 93.7 378.5 95.7 377.3 101.7 376.6 104.7 375.5 113.7 375.5 117.7 374.1 122.7 373.2 125.7 374.1 127.7 373.1 128.7 373.0 131.1 374.2 132.7 374.3 140.7 373.2 143.7 373.5 147.7 372.2 156.7 373.6 159.7 372.9 162.7 373.2 168.7 372.1 175.7 372.3 180.7 371.5 182.7 371.6 185.7 372.4 189.7 371.5 193.7 372.3 200.7 372.6 204.7 371.0 205.7 371.0 210.7 372.8 212.7 373.0 214.7 372.6 218.7 370.7 223.7 370.8 225.7 371.5 231.7 372.8 233.7 373.6 236.7 372.5 239.7 372.3 244.7 374.2 245.7 374.2 249.7 372.5 253.7 372.1 254.7 372.5 255.3 373.2 255.9 375.2 256.7 375.6 260.7 376.2 263.7 374.7 266.7 374.3 273.7 375.3 274.7 375.3 276.7 374.6M146.7 436.2 142.7 437.0 138.7 436.5 135.7 435.8 132.7 436.3 128.7 435.7 125.7 436.1 122.7 436.0 120.7 436.9 119.7 436.9 116.7 436.0 112.7 436.2 107.7 435.1 99.7 435.3 92.7 433.7 89.7 432.4 85.7 431.3 78.7 430.8 72.7 428.2 66.2 427.2 62.7 425.1 60.7 422.7 59.7 422.0 57.7 421.7 54.5 418.2 54.2 417.2 53.7 412.2 53.8 410.2 54.4 407.2 54.4 405.2 54.7 404.2 57.3 402.2 57.7 399.2 58.7 397.6 62.7 395.2 65.7 394.0 68.6 392.2 70.7 391.6 73.7 389.3 81.7 388.4 86.7 385.6 91.7 385.1 94.7 383.7 95.7 383.7 98.7 384.4 99.7 384.0 101.7 382.1 102.7 381.6 103.7 381.5 106.7 382.3 108.7 382.4 111.7 382.0 118.7 379.7 124.7 380.0 127.7 379.3 133.7 378.9 136.7 379.8 144.7 379.4 146.7 379.7 150.7 378.9 164.7 380.0 168.7 379.1 169.7 379.4 172.7 381.2 173.7 381.3 176.7 380.7 185.7 380.8 190.7 382.3 191.7 382.4 194.7 381.8 196.7 382.8 198.7 384.3 201.7 384.0 203.7 384.5 204.7 384.4 207.7 382.6 208.7 382.6 211.7 383.5 212.7 384.2 213.7 385.6 214.7 386.2 215.2 383.2 216.5 382.2 217.7 382.1 223.2 385.2 224.3 386.2 225.7 388.8 226.7 389.4 227.7 389.1 228.4 388.2 228.0 386.2 228.7 385.7 229.7 386.2 230.5 387.2 230.9 388.2 230.7 390.2 231.0 391.2 232.2 392.2 233.7 392.8 234.7 392.9 236.7 391.5 237.7 391.2 240.7 392.3 241.7 392.3 243.7 391.1 244.7 391.2 245.7 391.8 249.7 393.0 256.7 394.6 257.2 395.2 257.3 396.2 256.7 396.4 256.0 398.2 256.7 399.1 258.7 397.4 262.7 398.2 264.7 399.9 265.7 400.3 267.7 400.3 269.7 402.4 270.7 402.3 271.7 400.7 272.7 400.0 273.7 400.5 274.1 401.2 274.1 402.2 272.7 403.2 269.7 403.6 267.7 405.3 264.7 405.9 262.7 407.1 257.7 408.4 253.7 407.9 252.7 408.3 251.7 409.1 250.7 410.5 249.7 411.4 248.7 411.4 246.7 410.2 245.7 410.6 244.9 411.2 244.5 412.2 245.3 416.2 244.7 416.8 243.7 416.8 241.7 415.4 239.7 415.1 238.7 415.2 237.7 417.7 236.7 418.0 234.7 417.5 233.7 417.6 229.7 418.4 227.7 419.4 226.7 419.3 224.7 418.2 223.7 418.1 221.7 418.8 218.7 420.8 215.7 420.2 214.7 420.4 212.7 421.5 206.7 422.5 204.7 424.8 203.7 425.2 200.7 423.7 199.7 423.8 196.7 425.3 193.7 425.5 190.7 427.3 188.7 427.9 186.7 428.1 184.2 427.2 182.7 427.2 180.9 428.2 179.7 430.2 178.7 431.1 177.7 431.4 172.7 432.5 167.7 433.0 163.7 434.2 158.7 435.1 155.7 435.0 152.7 435.6 149.7 435.5 146.7 436.2M141.7 432.3 138.7 432.7 130.7 431.5 123.7 432.6 116.7 431.8 113.7 432.2 110.7 430.8 104.7 431.3 98.7 429.4 93.7 429.0 90.7 428.4 83.7 424.4 79.7 424.1 76.7 424.4 74.7 424.0 72.4 423.2 70.7 422.2 68.7 419.7 64.7 418.3 63.7 417.2 61.7 413.6 59.7 411.5 59.3 410.2 59.4 409.2 60.9 407.2 61.6 405.2 62.7 403.7 66.0 402.2 67.7 399.9 68.7 399.4 71.9 399.2 73.6 396.2 74.7 395.2 78.7 394.4 79.9 393.2 81.7 392.4 84.7 392.3 87.7 390.8 95.7 388.1 98.7 388.1 108.7 385.8 110.7 385.8 112.7 386.4 113.7 386.4 116.7 385.3 119.7 384.8 121.7 384.6 125.7 385.1 128.7 384.8 130.7 384.0 131.7 384.1 134.7 385.2 135.7 385.1 137.7 383.9 138.7 383.7 143.7 384.8 146.7 384.6 149.7 386.5 150.7 386.7 154.7 385.2 157.7 386.4 160.7 386.8 163.7 388.1 165.7 388.1 168.7 388.7 171.7 388.0 174.7 387.9 177.7 389.2 180.7 388.6 181.7 388.6 183.7 389.4 185.7 389.7 187.7 390.4 189.7 390.1 191.6 392.2 195.7 394.7 203.7 394.4 204.5 395.2 204.7 397.3 205.7 397.8 207.7 397.5 209.7 396.7 210.7 396.7 213.7 398.6 216.7 398.8 219.7 398.3 220.7 399.2 220.6 400.2 219.9 401.2 222.5 403.2 223.2 404.2 223.4 405.2 221.7 407.6 219.7 408.2 216.7 410.4 215.7 410.0 212.7 406.8 210.7 405.4 209.7 406.2 209.2 407.2 208.9 408.2 209.1 410.2 208.7 410.6 202.7 412.0 200.9 414.2 198.8 415.2 196.7 415.2 195.7 414.7 194.7 415.0 190.7 419.5 189.2 419.2 189.5 417.2 188.9 416.2 187.7 415.8 186.7 415.8 185.9 416.2 185.3 417.2 185.7 418.2 187.0 419.2 186.9 420.2 185.1 421.2 183.7 421.2 181.7 420.3 180.7 420.3 177.7 422.0 175.7 423.9 171.7 425.7 168.7 425.2 163.7 427.8 156.7 429.1 152.7 430.7 148.7 431.7 144.7 431.2 141.7 432.3M219.1 402.2 219.2 401.2 217.7 400.5 217.0 401.2 218.2 402.2 219.1 402.2M226.7 406.5 226.2 406.2 225.6 405.2 226.7 403.3 227.7 403.0 228.3 404.2 228.0 405.2 227.7 405.9 226.7 406.5M124.7 428.3 122.7 428.4 119.7 427.6 116.7 427.6 113.7 426.8 109.7 426.4 106.7 425.6 103.7 426.0 92.7 424.8 88.7 423.6 85.7 421.7 84.7 421.4 81.7 420.6 78.7 420.5 77.7 420.1 76.7 419.2 74.7 415.8 73.7 415.4 69.7 414.8 68.7 414.1 68.2 412.2 68.5 408.2 69.2 407.2 74.7 402.1 75.7 402.0 77.7 402.3 81.7 401.6 82.7 401.1 84.0 399.2 86.7 399.0 93.1 397.2 94.4 396.2 95.0 395.2 96.2 394.2 97.7 393.4 106.7 391.0 109.7 391.1 113.7 390.3 117.7 390.7 122.7 388.8 123.7 388.9 125.7 389.9 128.7 389.0 133.7 389.7 137.7 389.1 141.7 389.6 144.7 389.3 145.7 389.6 146.7 391.2 148.7 392.1 152.7 392.7 158.7 391.8 161.7 392.9 163.7 392.5 165.5 394.2 167.7 393.9 171.7 396.1 173.7 396.0 174.7 396.5 176.7 398.3 179.7 399.5 181.7 399.6 182.7 399.3 184.7 397.8 185.7 397.9 186.9 399.2 187.7 403.0 189.1 404.2 189.7 405.2 190.0 408.2 186.7 410.3 185.0 412.2 180.7 413.6 176.7 417.3 173.7 418.6 170.7 418.8 169.0 419.2 166.7 421.4 163.7 422.7 161.8 424.2 158.7 425.5 157.7 425.7 153.7 425.2 151.7 425.3 149.7 425.6 146.7 427.0 140.7 427.0 137.7 428.1 128.7 427.0 124.7 428.3M138.7 423.3 135.7 424.1 131.7 423.3 126.7 423.2 123.7 423.8 120.7 423.4 113.7 423.6 107.7 422.1 103.7 422.3 98.7 419.2 97.7 419.2 94.7 420.8 93.7 420.7 92.7 420.0 90.7 417.3 85.7 416.5 81.4 414.2 80.9 413.2 81.3 412.2 81.3 411.2 80.7 410.5 79.8 410.2 79.6 409.2 80.2 408.2 81.7 406.8 84.7 406.3 86.7 405.2 87.7 403.4 90.7 402.9 92.7 402.0 94.7 400.6 97.7 399.8 99.7 397.2 100.7 396.5 101.7 396.1 103.1 396.2 104.7 397.7 105.7 398.0 108.7 397.0 111.7 397.1 112.7 396.9 114.3 395.2 115.7 394.2 119.7 393.2 120.7 393.3 122.7 394.8 123.7 395.1 125.7 394.9 128.7 396.3 129.7 396.2 132.3 394.2 135.7 393.0 140.9 394.2 142.7 395.5 143.7 395.8 147.7 395.9 150.7 397.5 153.7 396.7 154.7 396.9 158.1 399.2 161.7 400.5 163.7 400.8 166.7 400.7 168.6 401.2 170.7 402.9 173.7 404.7 175.7 405.3 176.4 406.2 176.3 407.2 175.7 408.6 174.7 409.9 171.7 409.4 170.7 409.5 169.7 410.0 166.9 414.2 163.7 417.1 160.7 417.6 155.7 420.0 146.7 420.6 145.0 421.2 143.7 422.9 142.7 423.2 140.7 422.9 138.7 423.3M78.7 412.2 78.3 411.2 78.7 410.9 79.1 411.2 78.7 412.2M139.7 418.2 137.7 418.6 135.7 417.8 132.7 418.3 130.7 417.8 127.7 418.2 125.7 418.0 124.7 418.1 122.7 419.0 121.7 419.0 118.7 418.4 116.7 417.7 111.7 418.3 110.7 418.1 107.7 416.5 104.7 417.2 99.7 416.0 98.5 415.2 97.7 413.8 96.7 413.0 94.7 413.2 88.7 412.3 88.0 411.2 89.0 409.2 91.7 406.4 92.7 405.8 94.7 405.0 99.7 404.3 102.7 402.6 105.7 401.7 108.7 399.7 109.7 399.7 111.7 400.4 114.7 399.9 116.7 400.1 119.7 399.5 123.7 399.2 125.7 399.6 128.2 401.2 130.7 401.5 135.7 400.4 138.7 398.7 141.7 400.7 144.7 402.0 147.7 401.6 149.7 402.6 151.7 402.9 152.7 403.4 153.7 403.4 155.7 402.4 157.7 402.8 158.8 404.2 159.7 407.8 162.7 409.2 162.8 410.2 161.7 411.2 158.8 412.2 157.7 411.7 155.7 412.0 154.7 412.5 150.7 415.9 149.7 416.5 146.7 416.5 143.7 417.7 139.7 418.2M112.7 415.3 111.7 415.0 110.6 413.2 109.7 412.4 107.7 412.4 104.7 413.2 102.7 413.0 102.0 412.2 102.4 410.2 103.7 408.8 107.7 407.0 114.7 406.1 117.7 404.5 118.7 404.4 121.7 405.8 124.7 403.9 126.8 404.2 129.7 405.9 134.7 405.0 136.7 404.2 137.7 404.3 140.9 407.2 142.7 409.6 143.7 409.8 144.7 409.1 146.2 407.2 147.7 406.5 149.6 407.2 150.3 408.2 150.3 411.2 149.7 412.2 143.7 412.8 141.7 414.4 140.7 414.5 138.7 413.8 136.7 412.0 134.7 411.0 133.7 411.2 131.7 412.8 129.7 413.6 128.7 413.7 126.7 413.2 120.7 414.5 115.7 413.5 112.7 415.3"/>
<path stroke="#cfcfcf" stroke-opacity="0.85" stroke-width="1.4" fill="none" d="M81.80 344.7V481.9M120.40 344.7V481.9M159.00 344.7V481.9M197.60 344.7V481.9M236.20 344.7V481.9M43.2 468.16H274.8M43.2 440.72H274.8M43.2 385.84H274.8M43.2 358.40H274.8"/>
<path stroke="#000" stroke-width="0.8" d="M43.2 413.28H274.8"/>
<path stroke="#000" stroke-width="1.2" d="M81.5 344.7V481.9"/>
<path stroke="#f02020" stroke-width="1.1" stroke-dasharray="3.5 2" fill="none" d="M43.2 411.22L274.8 400.93"/>
<path stroke="#bb0010" stroke-width="1.5" fill="none" stroke-linejoin="round" d="M46.0 412.8 L60.0 411.8 L80.0 410.4 L100.0 409.0 L120.0 407.7 L140.0 406.3 L155.0 405.3 L170.0 404.4 L188.6 403.5 L205.0 402.6 L222.2 401.8 L240.0 401.1 L255.8 400.6 L274.8 400.1"/>
</g>
<text x="263.5" y="357.1" font-family="Liberation Serif, serif" font-size="12" font-weight="bold" fill="#fff" stroke="#000" stroke-width="2.6" stroke-linejoin="round" paint-order="stroke" text-anchor="end" textLength="122" lengthAdjust="spacingAndGlyphs"><tspan font-style="italic">a</tspan><tspan font-size="8.5" dy="2.2">1</tspan><tspan dy="-2.2"> </tspan>= 2.5 ± 1.4, <tspan font-style="italic">a</tspan><tspan font-size="8.5" dy="2.2">0</tspan><tspan dy="-2.2"> </tspan>= 1.5 ± 2.2</text>
<rect x="43.2" y="344.7" width="231.6" height="137.2" fill="none" stroke="#000" stroke-width="0.9"/>
<path stroke="#000" stroke-width="0.8" fill="none" d="M43.2 481.88h-2M43.2 475.02h-2M43.2 468.16h-3.5M43.2 461.30h-2M43.2 454.44h-2M43.2 447.58h-2M43.2 440.72h-3.5M43.2 433.86h-2M43.2 427.00h-2M43.2 420.14h-2M43.2 413.28h-3.5M43.2 406.42h-2M43.2 399.56h-2M43.2 392.70h-2M43.2 385.84h-3.5M43.2 378.98h-2M43.2 372.12h-2M43.2 365.26h-2M43.2 358.40h-3.5M43.2 351.54h-2M43.2 344.68h-2"/>
<path stroke="#000" stroke-width="0.8" fill="none" d="M43.20 481.9v3.5M62.50 481.9v2.0M81.80 481.9v3.5M101.10 481.9v2.0M120.40 481.9v3.5M139.70 481.9v2.0M159.00 481.9v3.5M178.30 481.9v2.0M197.60 481.9v3.5M216.90 481.9v2.0M236.20 481.9v3.5M255.50 481.9v2.0M274.80 481.9v3.5"/>
<text x="36.2" y="471.7" font-family="Liberation Serif, serif" font-size="10.5" text-anchor="end" fill="#333">−40</text>
<text x="36.2" y="444.2" font-family="Liberation Serif, serif" font-size="10.5" text-anchor="end" fill="#333">−20</text>
<text x="36.2" y="416.8" font-family="Liberation Serif, serif" font-size="10.5" text-anchor="end" fill="#333">0</text>
<text x="36.2" y="389.3" font-family="Liberation Serif, serif" font-size="10.5" text-anchor="end" fill="#333">20</text>
<text x="36.2" y="361.9" font-family="Liberation Serif, serif" font-size="10.5" text-anchor="end" fill="#333">40</text>
<text transform="translate(10.8 413.3) rotate(-90)" font-family="Liberation Serif, serif" font-size="11" text-anchor="middle" fill="#333" textLength="59" lengthAdjust="spacingAndGlyphs"><tspan font-style="italic">v</tspan><tspan font-style="italic" font-size="7.7" dy="1.9">rot,z′</tspan><tspan dy="-1.9"> [kms</tspan><tspan font-size="7.2" dy="-3.6">−1</tspan><tspan dy="3.6">]</tspan></text>
<text x="158.3" y="507.2" font-family="Liberation Serif, serif" font-size="11" text-anchor="middle" fill="#333" textLength="40.5" lengthAdjust="spacingAndGlyphs"><tspan font-style="italic">r</tspan><tspan font-style="italic" font-size="7.7" dy="1.9">x′y′</tspan><tspan dy="-1.9"> [kpc]</tspan></text>
<clipPath id="h2"><rect x="282.0" y="344.7" width="73.2" height="137.2"/></clipPath>
<g clip-path="url(#h2)">
<path d="M282.0 343.3 L282.00 343.31 L282.00 346.81 L282.00 346.81 L282.00 350.31 L282.00 350.31 L282.00 353.80 L283.10 353.80 L283.10 357.30 L285.10 357.30 L285.10 360.80 L288.30 360.80 L288.30 364.30 L291.80 364.30 L291.80 367.80 L296.00 367.80 L296.00 371.30 L301.60 371.30 L301.60 374.80 L305.80 374.80 L305.80 378.29 L313.50 378.29 L313.50 381.79 L321.20 381.79 L321.20 385.29 L327.50 385.29 L327.50 388.79 L332.00 388.79 L332.00 392.29 L337.00 392.29 L337.00 395.79 L342.00 395.79 L342.00 399.29 L346.80 399.29 L346.80 402.78 L349.10 402.78 L349.10 406.28 L350.90 406.28 L350.90 409.78 L350.30 409.78 L350.30 413.28 L346.80 413.28 L346.80 416.78 L342.60 416.78 L342.60 420.28 L334.00 420.28 L334.00 423.78 L326.00 423.78 L326.00 427.27 L318.00 427.27 L318.00 430.77 L306.90 430.77 L306.90 434.27 L299.90 434.27 L299.90 437.77 L294.30 437.77 L294.30 441.27 L289.40 441.27 L289.40 444.77 L286.60 444.77 L286.60 448.27 L284.90 448.27 L284.90 451.76 L283.80 451.76 L283.80 455.26 L283.10 455.26 L283.10 458.76 L282.40 458.76 L282.40 462.26 L282.00 462.26 L282.00 465.76 L282.00 465.76 L282.00 469.26 L282.00 469.26 L282.00 472.76 L282.00 472.76 L282.00 476.25 L282.00 476.25 L282.00 479.75 L282.00 479.75 L282.00 483.25 L282.0 483.3 Z" fill="#808080"/>
<path stroke="#b0b0b0" stroke-width="0.9" fill="none" d="M282.0 468.16H355.2M282.0 440.72H355.2M282.0 385.84H355.2M282.0 358.40H355.2"/>
<path d="M282.00 343.31 L282.00 346.81 L282.00 346.81 L282.00 350.31 L282.00 350.31 L282.00 353.80 L283.10 353.80 L283.10 357.30 L283.70 357.30 L283.70 360.80 L284.10 360.80 L284.10 364.30 L285.00 364.30 L285.00 367.80 L288.30 367.80 L288.30 371.30 L292.50 371.30 L292.50 374.80 L296.00 374.80 L296.00 378.29 L304.40 378.29 L304.40 381.79 L311.40 381.79 L311.40 385.29 L314.20 385.29 L314.20 388.79 L318.40 388.79 L318.40 392.29 L325.40 392.29 L325.40 395.79 L332.60 395.79 L332.60 399.29 L342.60 399.29 L342.60 402.78 L342.60 402.78 L342.60 406.28 L346.20 406.28 L346.20 409.78 L350.00 409.78 L350.00 413.28 L346.80 413.28 L346.80 416.78 L343.80 416.78 L343.80 420.28 L339.70 420.28 L339.70 423.78 L332.00 423.78 L332.00 427.27 L324.00 427.27 L324.00 430.77 L318.60 430.77 L318.60 434.27 L310.40 434.27 L310.40 437.77 L306.20 437.77 L306.20 441.27 L297.80 441.27 L297.80 444.77 L297.80 444.77 L297.80 448.27 L294.30 448.27 L294.30 451.76 L288.70 451.76 L288.70 455.26 L286.60 455.26 L286.60 458.76 L283.80 458.76 L283.80 462.26 L283.80 462.26 L283.80 465.76 L282.70 465.76 L282.70 469.26 L282.00 469.26 L282.00 472.76 L282.00 472.76 L282.00 476.25 L282.00 476.25 L282.00 479.75 L282.00 479.75 L282.00 483.25" fill="none" stroke="#ff0000" stroke-width="1.1"/>
<path stroke="#000" stroke-width="0.9" d="M282.0 413.28H355.2"/>
<path stroke="#000" stroke-width="1.4" stroke-dasharray="4 2.6" d="M282.0 406.30H355.2"/>
<path stroke="#ff0000" stroke-width="1.4" stroke-dasharray="4 2.6" d="M282.0 411.06H355.2"/>
</g>
<rect x="282.0" y="344.7" width="73.2" height="137.2" fill="none" stroke="#000" stroke-width="0.9"/>
<path stroke="#000" stroke-width="0.8" fill="none" d="M282.0 481.88h-2M282.0 475.02h-2M282.0 468.16h-3.5M282.0 461.30h-2M282.0 454.44h-2M282.0 447.58h-2M282.0 440.72h-3.5M282.0 433.86h-2M282.0 427.00h-2M282.0 420.14h-2M282.0 413.28h-3.5M282.0 406.42h-2M282.0 399.56h-2M282.0 392.70h-2M282.0 385.84h-3.5M282.0 378.98h-2M282.0 372.12h-2M282.0 365.26h-2M282.0 358.40h-3.5M282.0 351.54h-2M282.0 344.68h-2"/>
<rect x="334.3" y="345.5" width="9.9" height="50.7" fill="#fff"/>
<rect x="344.2" y="345.5" width="10.4" height="51.5" fill="#fff"/>
<text transform="translate(345.9 348.0) rotate(90)" font-family="Liberation Serif, serif" font-size="10.4" fill="#222">5.09 ± 0.09</text>
<text transform="translate(336.3 347.3) rotate(90)" font-family="Liberation Serif, serif" font-size="10.4" fill="#ff2020">1.62 ± 0.27</text>
<text x="43.20" y="496.7" font-family="Liberation Serif, serif" font-size="10.5" text-anchor="middle" fill="#333">0.0</text>
<text x="81.80" y="496.7" font-family="Liberation Serif, serif" font-size="10.5" text-anchor="middle" fill="#333">0.5</text>
<text x="120.40" y="496.7" font-family="Liberation Serif, serif" font-size="10.5" text-anchor="middle" fill="#333">1.0</text>
<text x="159.00" y="496.7" font-family="Liberation Serif, serif" font-size="10.5" text-anchor="middle" fill="#333">1.5</text>
<text x="197.60" y="496.7" font-family="Liberation Serif, serif" font-size="10.5" text-anchor="middle" fill="#333">2.0</text>
<text x="236.20" y="496.7" font-family="Liberation Serif, serif" font-size="10.5" text-anchor="middle" fill="#333">2.5</text>
<text x="274.80" y="496.7" font-family="Liberation Serif, serif" font-size="10.5" text-anchor="middle" fill="#333">3.0</text>
</svg>
</body></html>
